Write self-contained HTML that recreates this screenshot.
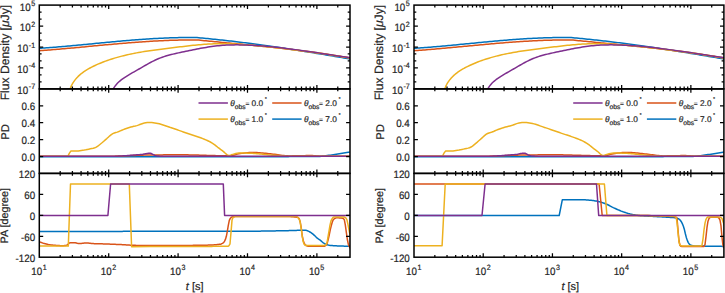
<!DOCTYPE html><html><head><meta charset="utf-8"><style>html,body{margin:0;padding:0;background:#fff;width:725px;height:293px;overflow:hidden}svg{display:block}text{font-family:"Liberation Sans",sans-serif;fill:#262626;stroke:#262626;stroke-width:0.2px;text-rendering:geometricPrecision}</style></head><body>
<svg width="725" height="293" viewBox="0 0 725 293">
<defs>
<clipPath id="c00"><rect x="39.3" y="5.1" width="310.7" height="83.8"/></clipPath>
<clipPath id="c01"><rect x="39.3" y="88.9" width="310.7" height="84.5"/></clipPath>
<clipPath id="c02"><rect x="39.3" y="173.4" width="310.7" height="83.8"/></clipPath>
<clipPath id="c10"><rect x="414" y="5.1" width="309.9" height="83.8"/></clipPath>
<clipPath id="c11"><rect x="414" y="88.9" width="309.9" height="84.5"/></clipPath>
<clipPath id="c12"><rect x="414" y="173.4" width="309.9" height="83.8"/></clipPath>
</defs>
<path d="M39.33 48.35 L41.12 48.23 L42.91 48.11 L44.7 47.99 L46.49 47.86 L48.28 47.73 L50.07 47.59 L51.86 47.45 L53.65 47.31 L55.44 47.17 L57.23 47.02 L59.02 46.87 L60.81 46.72 L62.6 46.57 L64.38 46.41 L66.17 46.26 L67.96 46.1 L69.75 45.93 L71.54 45.77 L73.33 45.6 L75.12 45.44 L76.91 45.27 L78.7 45.1 L80.48 44.93 L82.27 44.76 L84.06 44.59 L85.85 44.41 L87.64 44.24 L89.43 44.07 L91.21 43.89 L93 43.72 L94.79 43.54 L96.58 43.37 L98.37 43.2 L100.16 43.02 L101.95 42.85 L103.74 42.68 L105.52 42.51 L107.31 42.33 L109.1 42.16 L110.89 41.99 L112.68 41.83 L114.47 41.66 L116.26 41.49 L118.05 41.33 L119.84 41.17 L121.63 41.01 L123.42 40.85 L125.21 40.7 L127 40.54 L128.79 40.39 L130.58 40.24 L132.37 40.09 L134.16 39.95 L135.95 39.81 L137.74 39.67 L139.53 39.54 L141.33 39.41 L143.12 39.28 L144.91 39.15 L146.7 39.03 L148.5 38.92 L150.29 38.8 L152.08 38.69 L153.87 38.59 L155.67 38.49 L157.46 38.39 L159.26 38.3 L161.05 38.21 L162.85 38.13 L164.64 38.05 L166.44 37.98 L168.23 37.91 L170.03 37.84 L171.82 37.79 L173.62 37.74 L175.42 37.69 L177.22 37.65 L179.01 37.61 L180.81 37.59 L182.61 37.56 L184.41 37.55 L186.21 37.54 L188.01 37.54 L189.81 37.54 L191.61 37.55 L193.41 37.57 L195.21 37.59 L197.01 37.62 L196.99 37.6 L198.79 37.76 L200.59 37.92 L202.39 38.08 L204.19 38.25 L205.99 38.43 L207.79 38.6 L209.59 38.78 L211.39 38.96 L213.19 39.14 L214.99 39.33 L216.79 39.51 L218.59 39.7 L220.39 39.9 L222.19 40.09 L223.99 40.29 L225.78 40.49 L227.58 40.7 L229.38 40.9 L231.17 41.11 L232.97 41.32 L234.77 41.53 L236.56 41.75 L238.36 41.97 L240.15 42.19 L241.95 42.41 L243.74 42.63 L245.53 42.86 L247.33 43.09 L249.12 43.32 L250.92 43.55 L252.71 43.79 L254.5 44.03 L256.29 44.27 L258.09 44.51 L259.88 44.75 L261.67 45 L263.46 45.25 L265.25 45.49 L267.04 45.75 L268.83 46 L270.62 46.25 L272.41 46.51 L274.2 46.77 L275.99 47.03 L277.78 47.29 L279.57 47.56 L281.36 47.82 L283.15 48.09 L284.94 48.36 L286.73 48.63 L288.52 48.9 L290.3 49.17 L292.09 49.45 L293.88 49.72 L295.67 50 L297.45 50.28 L299.24 50.56 L301.03 50.84 L302.81 51.12 L304.6 51.41 L306.39 51.69 L308.17 51.98 L309.96 52.27 L311.74 52.56 L313.53 52.85 L315.32 53.14 L317.1 53.43 L318.89 53.73 L320.67 54.02 L322.46 54.32 L324.24 54.61 L326.02 54.91 L327.81 55.21 L329.59 55.51 L331.38 55.81 L333.16 56.11 L334.94 56.41 L336.73 56.71 L338.51 57.02 L340.29 57.32 L342.08 57.63 L343.86 57.93 L345.64 58.24 L347.43 58.55 L349.21 58.85 L350.99 59.16" fill="none" stroke="#0072BD" stroke-width="1.5" stroke-linejoin="round" stroke-linecap="butt" clip-path="url(#c00)"/>
<path d="M39.32 50.73 L41.11 50.6 L42.9 50.47 L44.69 50.33 L46.48 50.19 L48.27 50.05 L50.06 49.91 L51.85 49.76 L53.64 49.61 L55.43 49.46 L57.22 49.31 L59.01 49.16 L60.8 49 L62.59 48.85 L64.38 48.69 L66.17 48.53 L67.96 48.37 L69.75 48.2 L71.53 48.04 L73.32 47.88 L75.11 47.71 L76.9 47.55 L78.69 47.38 L80.48 47.21 L82.27 47.04 L84.06 46.88 L85.85 46.71 L87.64 46.54 L89.43 46.37 L91.21 46.2 L93 46.03 L94.79 45.87 L96.58 45.7 L98.37 45.53 L100.16 45.36 L101.95 45.2 L103.74 45.03 L105.53 44.87 L107.32 44.7 L109.11 44.54 L110.9 44.38 L112.69 44.22 L114.48 44.06 L116.27 43.9 L118.06 43.74 L119.85 43.59 L121.64 43.44 L123.43 43.29 L125.22 43.14 L127.01 42.99 L128.8 42.85 L130.59 42.7 L132.38 42.56 L134.17 42.43 L135.96 42.29 L137.76 42.16 L139.55 42.03 L141.34 41.9 L143.13 41.78 L144.92 41.66 L146.72 41.54 L148.51 41.43 L150.3 41.32 L152.09 41.21 L153.89 41.11 L155.68 41.01 L157.48 40.91 L159.27 40.82 L161.06 40.73 L162.86 40.65 L164.65 40.57 L166.45 40.49 L168.24 40.42 L170.04 40.35 L171.83 40.29 L173.63 40.23 L175.43 40.18 L177.22 40.13 L179.02 40.09 L180.82 40.05 L182.62 40.02 L184.41 39.99 L186.21 39.97 L188.01 39.96 L189.81 39.95 L191.61 39.94 L193.41 39.94 L195.21 39.95 L197.01 39.96 L197 39.9 L198.79 40.08 L200.59 40.26 L202.38 40.45 L204.18 40.63 L205.97 40.81 L207.77 40.98 L209.56 41.16 L211.36 41.34 L213.15 41.51 L214.95 41.69 L216.74 41.86 L218.54 42.04 L220.33 42.21 L222.13 42.39 L223.92 42.56 L225.72 42.73 L227.51 42.91 L229.31 43.08 L231.11 43.25 L232.9 43.43 L234.7 43.6 L236.49 43.77 L238.29 43.94 L240.08 44.12 L241.88 44.29 L243.67 44.47 L245.47 44.64 L247.26 44.82 L249.06 44.99 L250.85 45.17 L252.65 45.35 L254.44 45.53 L256.24 45.71 L258.03 45.89 L259.83 46.07 L261.62 46.25 L263.42 46.43 L265.21 46.62 L267.01 46.81 L268.8 46.99 L270.59 47.18 L272.39 47.37 L274.18 47.56 L275.97 47.76 L277.77 47.95 L279.56 48.15 L281.35 48.35 L283.14 48.55 L284.94 48.75 L286.73 48.96 L288.52 49.16 L290.31 49.37 L292.1 49.58 L293.89 49.8 L295.68 50.01 L297.47 50.23 L299.26 50.45 L301.05 50.68 L302.84 50.9 L304.63 51.13 L306.42 51.36 L308.2 51.6 L309.99 51.83 L311.78 52.07 L313.57 52.32 L315.35 52.56 L317.14 52.81 L318.93 53.06 L320.71 53.32 L322.5 53.58 L324.28 53.84 L326.06 54.1 L327.85 54.37 L329.63 54.65 L331.41 54.92 L333.2 55.2 L334.98 55.49 L336.76 55.78 L338.54 56.07 L340.32 56.36 L342.1 56.66 L343.88 56.97 L345.66 57.27 L347.44 57.59 L349.21 57.9 L350.99 58.23" fill="none" stroke="#D95319" stroke-width="1.5" stroke-linejoin="round" stroke-linecap="butt" clip-path="url(#c00)"/>
<path d="M69.98 89.29 L70.67 87.43 L71.46 85.67 L72.33 83.98 L73.3 82.37 L74.35 80.84 L75.47 79.38 L76.67 77.98 L77.94 76.66 L79.27 75.39 L80.66 74.18 L82.11 73.03 L83.6 71.93 L85.15 70.89 L86.73 69.89 L88.34 68.93 L89.99 68.01 L91.66 67.13 L93.36 66.29 L95.07 65.47 L96.8 64.68 L98.53 63.92 L100.27 63.19 L102.02 62.48 L103.78 61.79 L105.55 61.13 L107.33 60.49 L109.11 59.87 L110.9 59.28 L112.7 58.7 L114.51 58.15 L116.32 57.62 L118.14 57.1 L119.97 56.61 L121.8 56.13 L123.64 55.67 L125.48 55.23 L127.33 54.8 L129.18 54.39 L131.04 53.99 L132.9 53.61 L134.76 53.24 L136.63 52.88 L138.5 52.54 L140.38 52.21 L142.26 51.88 L144.14 51.57 L146.02 51.27 L147.91 50.98 L149.79 50.7 L151.68 50.43 L153.57 50.16 L155.46 49.9 L157.35 49.65 L159.25 49.4 L161.14 49.16 L163.03 48.92 L164.92 48.68 L166.81 48.45 L168.7 48.22 L170.59 47.99 L172.48 47.77 L174.36 47.54 L176.24 47.31 L178.13 47.09 L180 46.86 L181.88 46.64 L183.76 46.41 L185.63 46.2 L187.5 45.98 L189.37 45.77 L191.24 45.56 L193.11 45.37 L194.98 45.17 L196.85 44.99 L198.72 44.81 L200.59 44.65 L202.46 44.49 L204.33 44.35 L206.2 44.22 L208.08 44.1 L209.95 43.99 L211.83 43.9 L213.7 43.82 L215.58 43.76 L217.46 43.72 L219.34 43.69 L221.23 43.69 L223.11 43.69 L225 43.72 L226.89 43.76 L228.78 43.81 L230.67 43.88 L232.57 43.96 L234.46 44.05 L236.36 44.15 L238.25 44.26 L240.15 44.38 L242.04 44.51 L243.94 44.65 L245.84 44.8 L247.73 44.95 L249.62 45.11 L251.52 45.27 L253.41 45.43 L255.3 45.6 L257.19 45.78 L259.08 45.95 L260.97 46.13 L262.86 46.32 L264.75 46.5 L266.63 46.69 L268.52 46.88 L270.4 47.08 L272.29 47.28 L274.17 47.48 L276.05 47.69 L277.93 47.9 L279.81 48.11 L281.69 48.33 L283.57 48.54 L285.45 48.77 L287.33 48.99 L289.21 49.22 L291.08 49.45 L292.96 49.68 L294.83 49.92 L296.71 50.15 L298.58 50.4 L300.46 50.64 L302.33 50.89 L304.21 51.14 L306.08 51.39 L307.95 51.64 L309.83 51.9 L311.7 52.16 L313.57 52.42 L315.44 52.69 L317.31 52.96 L319.19 53.23 L321.06 53.5 L322.93 53.77 L324.8 54.05 L326.67 54.33 L328.54 54.61 L330.41 54.9 L332.29 55.18 L334.16 55.47 L336.03 55.76 L337.9 56.06 L339.77 56.35 L341.64 56.65 L343.51 56.95 L345.39 57.25 L347.26 57.55 L349.13 57.86 L351 58.16" fill="none" stroke="#EDB120" stroke-width="1.5" stroke-linejoin="round" stroke-linecap="butt" clip-path="url(#c00)"/>
<path d="M113.09 89.36 L114.01 87.68 L115.04 86.13 L116.17 84.68 L117.39 83.32 L118.7 82.05 L120.08 80.85 L121.51 79.71 L123 78.62 L124.52 77.58 L126.08 76.56 L127.66 75.57 L129.26 74.61 L130.88 73.66 L132.51 72.72 L134.14 71.79 L135.79 70.87 L137.43 69.94 L139.06 69.01 L140.69 68.07 L142.32 67.13 L143.94 66.19 L145.56 65.25 L147.18 64.32 L148.81 63.41 L150.44 62.52 L152.08 61.65 L153.74 60.81 L155.4 60.01 L157.09 59.24 L158.79 58.52 L160.51 57.84 L162.25 57.21 L164 56.61 L165.78 56.05 L167.56 55.53 L169.36 55.03 L171.17 54.56 L172.99 54.11 L174.82 53.68 L176.65 53.27 L178.49 52.87 L180.33 52.47 L182.17 52.08 L184.01 51.69 L185.85 51.3 L187.69 50.92 L189.53 50.53 L191.37 50.15 L193.21 49.78 L195.05 49.41 L196.89 49.05 L198.74 48.7 L200.58 48.36 L202.42 48.02 L204.26 47.7 L206.11 47.4 L207.95 47.1 L209.8 46.82 L211.65 46.56 L213.5 46.31 L215.35 46.08 L217.21 45.86 L219.06 45.67 L220.92 45.5 L222.78 45.35 L224.64 45.22 L226.5 45.12 L228.37 45.03 L230.23 44.96 L232.1 44.91 L233.97 44.88 L235.84 44.86 L237.71 44.86 L239.58 44.88 L241.45 44.91 L243.33 44.95 L245.2 45.01 L247.07 45.07 L248.94 45.15 L250.81 45.24 L252.68 45.34 L254.55 45.45 L256.42 45.57 L258.29 45.69 L260.15 45.83 L262.02 45.97 L263.88 46.12 L265.75 46.27 L267.61 46.44 L269.48 46.61 L271.34 46.79 L273.2 46.97 L275.06 47.16 L276.92 47.36 L278.78 47.56 L280.64 47.77 L282.5 47.99 L284.35 48.21 L286.21 48.43 L288.07 48.66 L289.92 48.9 L291.78 49.14 L293.63 49.38 L295.49 49.63 L297.34 49.88 L299.2 50.13 L301.05 50.39 L302.9 50.65 L304.75 50.92 L306.61 51.19 L308.46 51.46 L310.31 51.73 L312.16 52 L314.01 52.28 L315.86 52.56 L317.71 52.84 L319.56 53.12 L321.41 53.4 L323.26 53.68 L325.11 53.96 L326.96 54.25 L328.81 54.53 L330.66 54.82 L332.51 55.1 L334.36 55.38 L336.21 55.66 L338.06 55.94 L339.91 56.22 L341.76 56.5 L343.61 56.78 L345.45 57.05 L347.3 57.33 L349.15 57.6 L351 57.87" fill="none" stroke="#7E2F8E" stroke-width="1.5" stroke-linejoin="round" stroke-linecap="butt" clip-path="url(#c00)"/>
<path d="M39.3 156.7 L40.8 156.7 L42.3 156.7 L43.8 156.7 L45.3 156.7 L46.8 156.7 L48.3 156.7 L49.8 156.7 L51.3 156.7 L52.8 156.7 L54.3 156.7 L55.8 156.7 L57.3 156.7 L58.8 156.7 L60.3 156.7 L61.8 156.7 L63.3 156.7 L64.8 156.7 L66.3 156.7 L67.8 156.7 L69.3 156.7 L70.8 156.7 L72.3 156.7 L73.8 156.7 L75.3 156.7 L76.8 156.7 L78.3 156.7 L79.8 156.7 L81.3 156.7 L82.8 156.7 L84.3 156.7 L85.8 156.7 L87.3 156.7 L88.8 156.7 L90.3 156.7 L91.8 156.7 L93.3 156.7 L94.8 156.7 L96.3 156.7 L97.8 156.7 L99.3 156.7 L100.8 156.7 L102.3 156.7 L103.8 156.7 L105.3 156.7 L106.8 156.7 L108.3 156.7 L109.8 156.7 L111.3 156.7 L112.8 156.7 L114.3 156.7 L115.8 156.7 L117.3 156.7 L118.8 156.7 L120.3 156.7 L121.8 156.7 L123.3 156.7 L124.8 156.7 L126.3 156.7 L127.8 156.7 L129.3 156.7 L130.8 156.7 L132.3 156.7 L133.8 156.7 L135.3 156.69 L136.8 156.69 L138.3 156.69 L139.8 156.69 L141.3 156.69 L142.8 156.69 L144.3 156.69 L145.8 156.69 L147.3 156.69 L148.8 156.69 L150.3 156.69 L151.8 156.69 L153.3 156.69 L154.8 156.69 L156.3 156.69 L157.8 156.69 L159.3 156.69 L160.8 156.69 L162.3 156.69 L163.8 156.69 L165.3 156.69 L166.8 156.69 L168.3 156.69 L169.8 156.69 L171.3 156.69 L172.8 156.69 L174.3 156.69 L175.8 156.69 L177.3 156.69 L178.8 156.69 L180.3 156.69 L181.8 156.68 L183.3 156.68 L184.8 156.68 L186.3 156.68 L187.8 156.68 L189.3 156.68 L190.8 156.68 L192.3 156.68 L193.8 156.68 L195.3 156.68 L196.8 156.68 L198.3 156.68 L199.8 156.68 L201.3 156.68 L202.8 156.68 L204.3 156.68 L205.8 156.68 L207.3 156.68 L208.8 156.68 L210.3 156.67 L211.8 156.67 L213.3 156.67 L214.8 156.67 L216.3 156.67 L217.8 156.67 L219.3 156.67 L220.8 156.67 L222.3 156.67 L223.8 156.67 L225.3 156.67 L226.8 156.67 L228.3 156.67 L229.8 156.67 L231.3 156.66 L232.8 156.66 L234.3 156.66 L235.8 156.66 L237.3 156.66 L238.8 156.66 L240.3 156.66 L241.8 156.66 L243.3 156.66 L244.8 156.66 L246.3 156.66 L247.8 156.66 L249.3 156.65 L250.8 156.65 L252.3 156.65 L253.8 156.65 L255.3 156.65 L256.8 156.65 L258.3 156.65 L259.8 156.65 L261.3 156.65 L262.8 156.65 L264.3 156.64 L265.8 156.64 L267.3 156.64 L268.8 156.64 L270.3 156.64 L271.8 156.64 L273.3 156.64 L274.8 156.64 L276.3 156.64 L277.8 156.63 L279.3 156.63 L280.8 156.63 L282.3 156.63 L283.8 156.63 L285.3 156.63 L286.8 156.63 L288.3 156.63 L289.8 156.62 L291.3 156.62 L292.8 156.62 L294.3 156.62 L295.8 156.62 L297.3 156.62 L298.8 156.62 L300.3 156.62 L301.8 156.61 L303.3 156.61 L304.8 156.61 L306.3 156.61 L307.8 156.61 L309.3 156.61 L310.8 156.61 L312.3 156.6 L313.8 156.6 L315.3 156.6 L316.8 156.59 L318.3 156.52 L319.8 156.41 L321.3 156.25 L322.8 156.08 L324.3 155.9 L325.8 155.72 L327.3 155.55 L328.8 155.36 L330.3 155.15 L331.8 154.93 L333.3 154.71 L334.8 154.48 L336.3 154.25 L337.8 154.03 L339.3 153.79 L340.8 153.56 L342.3 153.31 L343.8 153.07 L345.3 152.82 L346.8 152.56 L348.3 152.3 L349.8 152.04 L350 152" fill="none" stroke="#0072BD" stroke-width="1.5" stroke-linejoin="round" stroke-linecap="butt" clip-path="url(#c01)"/>
<path d="M39.3 156.2 L40.8 156.2 L42.3 156.2 L43.8 156.2 L45.3 156.2 L46.8 156.2 L48.3 156.2 L49.8 156.2 L51.3 156.2 L52.8 156.2 L54.3 156.2 L55.8 156.2 L57.3 156.2 L58.8 156.2 L60.3 156.2 L61.8 156.2 L63.3 156.2 L64.8 156.2 L66.3 156.2 L67.8 156.2 L69.3 156.2 L70.8 156.2 L72.3 156.2 L73.8 156.2 L75.3 156.2 L76.8 156.2 L78.3 156.2 L79.8 156.2 L81.3 156.2 L82.8 156.2 L84.3 156.2 L85.8 156.2 L87.3 156.2 L88.8 156.2 L90.3 156.2 L91.8 156.2 L93.3 156.2 L94.8 156.2 L96.3 156.2 L97.8 156.2 L99.3 156.2 L100.8 156.2 L102.3 156.2 L103.8 156.2 L105.3 156.2 L106.8 156.2 L108.3 156.2 L109.8 156.19 L111.3 156.18 L112.8 156.16 L114.3 156.14 L115.8 156.1 L117.3 156.07 L118.8 156.02 L120.3 155.98 L121.8 155.93 L123.3 155.88 L124.8 155.82 L126.3 155.76 L127.8 155.7 L129.3 155.64 L130.8 155.58 L132.3 155.52 L133.8 155.46 L135.3 155.4 L136.8 155.35 L138.3 155.29 L139.8 155.24 L141.3 155.19 L142.8 155.15 L144.3 155.1 L145.8 155.07 L147.3 155.04 L148.8 155.01 L150.3 155 L151.8 154.98 L153.3 154.97 L154.8 154.95 L156.3 154.94 L157.8 154.92 L159.3 154.91 L160.8 154.89 L162.3 154.88 L163.8 154.87 L165.3 154.86 L166.8 154.85 L168.3 154.84 L169.8 154.83 L171.3 154.82 L172.8 154.82 L174.3 154.81 L175.8 154.81 L177.3 154.8 L178.8 154.8 L180.3 154.8 L181.8 154.8 L183.3 154.81 L184.8 154.83 L186.3 154.85 L187.8 154.87 L189.3 154.9 L190.8 154.93 L192.3 154.96 L193.8 154.99 L195.3 155.03 L196.8 155.07 L198.3 155.12 L199.8 155.16 L201.3 155.21 L202.8 155.25 L204.3 155.3 L205.8 155.34 L207.3 155.39 L208.8 155.43 L210.3 155.48 L211.8 155.52 L213.3 155.56 L214.8 155.6 L216.3 155.64 L217.8 155.67 L219.3 155.7 L220.8 155.73 L222.3 155.75 L223.8 155.77 L225.3 155.79 L226.8 155.8 L228.3 155.8 L229.8 155.76 L231.3 155.58 L232.8 155.28 L234.3 154.91 L235.8 154.51 L237.3 154.12 L238.8 153.79 L240.3 153.56 L241.8 153.37 L243.3 153.17 L244.8 152.98 L246.3 152.81 L247.8 152.65 L249.3 152.53 L250.8 152.45 L252.3 152.4 L253.8 152.41 L255.3 152.45 L256.8 152.53 L258.3 152.63 L259.8 152.75 L261.3 152.89 L262.8 153.05 L264.3 153.21 L265.8 153.37 L267.3 153.53 L268.8 153.69 L270.3 153.83 L271.8 153.98 L273.3 154.16 L274.8 154.36 L276.3 154.56 L277.8 154.77 L279.3 154.98 L280.8 155.18 L282.3 155.37 L283.8 155.54 L285.3 155.68 L286.8 155.8 L288.3 155.87 L289.8 155.9 L291.3 155.89 L292.8 155.87 L294.3 155.83 L295.8 155.79 L297.3 155.75 L298.8 155.72 L300.3 155.7 L301.8 155.68 L303.3 155.66 L304.8 155.64 L306.3 155.62 L307.8 155.61 L309.3 155.6 L310.8 155.6 L312.3 155.62 L313.8 155.7 L315.3 155.8 L316.8 155.92 L318.3 156.04 L319.8 156.14 L321.3 156.19 L322.8 156.2 L324.3 156.2 L325.8 156.2 L327.3 156.2 L328.8 156.2 L330.3 156.2 L331.8 156.2 L333.3 156.2 L334.8 156.2 L336.3 156.2 L337.8 156.2 L339.3 156.2 L340.8 156.2 L342.3 156.2 L343.8 156.2 L345.3 156.2 L346.8 156.2 L348.3 156.2 L349.8 156.2 L350 156.2" fill="none" stroke="#D95319" stroke-width="1.5" stroke-linejoin="round" stroke-linecap="butt" clip-path="url(#c01)"/>
<path d="M39.3 156.3 L40.8 156.3 L42.3 156.3 L43.8 156.3 L45.3 156.3 L46.8 156.3 L48.3 156.3 L49.8 156.3 L51.3 156.3 L52.8 156.3 L54.3 156.3 L55.8 156.3 L57.3 156.3 L58.8 156.3 L60.3 156.3 L61.8 156.3 L63.3 156.3 L64.8 156.3 L66.3 156.3 L67.8 156.3 L69.3 153.38 L70.8 151.1 L72.3 151.1 L73.8 151.1 L75.3 151.1 L76.8 151.06 L78.3 150.93 L79.8 150.75 L81.3 150.54 L82.8 150.33 L84.3 150.1 L85.8 149.82 L87.3 149.5 L88.8 149.17 L90.3 148.83 L91.8 148.51 L93.3 148.17 L94.8 147.74 L96.3 147.14 L97.8 146.17 L99.3 145 L100.8 143.78 L102.3 142.54 L103.8 141.21 L105.3 139.85 L106.8 138.56 L108.3 137.19 L109.8 135.81 L111.3 134.56 L112.8 133.59 L114.3 132.99 L115.8 132.56 L117.3 132.1 L118.8 131.52 L120.3 130.89 L121.8 130.24 L123.3 129.61 L124.8 129.04 L126.3 128.5 L127.8 127.99 L129.3 127.51 L130.8 127.08 L132.3 126.7 L133.8 126.35 L135.3 126 L136.8 125.6 L138.3 125.11 L139.8 124.55 L141.3 123.97 L142.8 123.45 L144.3 123.06 L145.8 122.78 L147.3 122.54 L148.8 122.41 L150.3 122.43 L151.8 122.54 L153.3 122.71 L154.8 122.92 L156.3 123.14 L157.8 123.44 L159.3 123.8 L160.8 124.23 L162.3 124.7 L163.8 125.2 L165.3 125.73 L166.8 126.26 L168.3 126.79 L169.8 127.31 L171.3 127.79 L172.8 128.29 L174.3 128.79 L175.8 129.3 L177.3 129.82 L178.8 130.35 L180.3 130.88 L181.8 131.4 L183.3 131.93 L184.8 132.45 L186.3 132.97 L187.8 133.47 L189.3 133.97 L190.8 134.46 L192.3 134.95 L193.8 135.44 L195.3 135.94 L196.8 136.45 L198.3 136.97 L199.8 137.51 L201.3 138.06 L202.8 138.63 L204.3 139.22 L205.8 139.83 L207.3 140.49 L208.8 141.2 L210.3 141.99 L211.8 142.87 L213.3 143.83 L214.8 144.88 L216.3 146.07 L217.8 147.29 L219.3 148.44 L220.8 149.56 L222.3 150.68 L223.8 151.86 L225.3 153.29 L226.8 154.64 L228.3 155.49 L229.8 155.47 L231.3 154.84 L232.8 154.39 L234.3 153.98 L235.8 153.59 L237.3 153.27 L238.8 153.06 L240.3 153 L241.8 153.01 L243.3 153.03 L244.8 153.06 L246.3 153.1 L247.8 153.15 L249.3 153.2 L250.8 153.25 L252.3 153.31 L253.8 153.39 L255.3 153.5 L256.8 153.63 L258.3 153.78 L259.8 153.94 L261.3 154.11 L262.8 154.28 L264.3 154.45 L265.8 154.62 L267.3 154.77 L268.8 154.91 L270.3 155.02 L271.8 155.13 L273.3 155.25 L274.8 155.36 L276.3 155.48 L277.8 155.59 L279.3 155.7 L280.8 155.81 L282.3 155.91 L283.8 156 L285.3 156.08 L286.8 156.15 L288.3 156.21 L289.8 156.26 L291.3 156.29 L292.8 156.3 L294.3 156.3 L295.8 156.3 L297.3 156.3 L298.8 156.3 L300.3 156.3 L301.8 156.3 L303.3 156.3 L304.8 156.3 L306.3 156.3 L307.8 156.3 L309.3 156.3 L310.8 156.3 L312.3 156.3 L313.8 156.3 L315.3 156.3 L316.8 156.3 L318.3 156.3 L319.8 156.3 L321.3 156.3 L322.8 156.3 L324.3 156.3 L325.8 156.3 L327.3 156.3 L328.8 156.3 L330.3 156.3 L331.8 156.3 L333.3 156.3 L334.8 156.3 L336.3 156.3 L337.8 156.3 L339.3 156.3 L340.8 156.3 L342.3 156.3 L343.8 156.3 L345.3 156.3 L346.8 156.3 L348.3 156.3 L349.8 156.3 L350 156.3" fill="none" stroke="#EDB120" stroke-width="1.5" stroke-linejoin="round" stroke-linecap="butt" clip-path="url(#c01)"/>
<path d="M39.3 156.3 L40.8 156.3 L42.3 156.3 L43.8 156.3 L45.3 156.3 L46.8 156.3 L48.3 156.3 L49.8 156.3 L51.3 156.3 L52.8 156.3 L54.3 156.3 L55.8 156.3 L57.3 156.3 L58.8 156.3 L60.3 156.3 L61.8 156.3 L63.3 156.3 L64.8 156.3 L66.3 156.3 L67.8 156.3 L69.3 156.3 L70.8 156.3 L72.3 156.3 L73.8 156.3 L75.3 156.3 L76.8 156.3 L78.3 156.3 L79.8 156.3 L81.3 156.3 L82.8 156.3 L84.3 156.3 L85.8 156.3 L87.3 156.3 L88.8 156.3 L90.3 156.3 L91.8 156.3 L93.3 156.3 L94.8 156.3 L96.3 156.3 L97.8 156.3 L99.3 156.3 L100.8 156.3 L102.3 156.3 L103.8 156.3 L105.3 156.3 L106.8 156.3 L108.3 156.3 L109.8 156.3 L111.3 156.29 L112.8 156.27 L114.3 156.24 L115.8 156.2 L117.3 156.15 L118.8 156.09 L120.3 156.02 L121.8 155.95 L123.3 155.86 L124.8 155.77 L126.3 155.68 L127.8 155.58 L129.3 155.47 L130.8 155.36 L132.3 155.24 L133.8 155.12 L135.3 155 L136.8 154.87 L138.3 154.75 L139.8 154.62 L141.3 154.45 L142.8 154.21 L144.3 153.93 L145.8 153.65 L147.3 153.41 L148.8 153.24 L150.3 153.22 L151.8 153.77 L153.3 154.69 L154.8 155.45 L156.3 155.72 L157.8 155.89 L159.3 156.04 L160.8 156.15 L162.3 156.24 L163.8 156.29 L165.3 156.3 L166.8 156.3 L168.3 156.3 L169.8 156.3 L171.3 156.3 L172.8 156.3 L174.3 156.3 L175.8 156.3 L177.3 156.3 L178.8 156.3 L180.3 156.3 L181.8 156.3 L183.3 156.3 L184.8 156.3 L186.3 156.3 L187.8 156.3 L189.3 156.3 L190.8 156.3 L192.3 156.3 L193.8 156.3 L195.3 156.3 L196.8 156.3 L198.3 156.3 L199.8 156.3 L201.3 156.3 L202.8 156.3 L204.3 156.3 L205.8 156.3 L207.3 156.3 L208.8 156.3 L210.3 156.3 L211.8 156.3 L213.3 156.3 L214.8 156.3 L216.3 156.3 L217.8 156.3 L219.3 156.3 L220.8 156.3 L222.3 156.3 L223.8 156.3 L225.3 156.3 L226.8 156.3 L228.3 156.3 L229.8 156.3 L231.3 156.3 L232.8 156.3 L234.3 156.3 L235.8 156.3 L237.3 156.3 L238.8 156.3 L240.3 156.3 L241.8 156.3 L243.3 156.3 L244.8 156.3 L246.3 156.3 L247.8 156.3 L249.3 156.3 L250.8 156.3 L252.3 156.3 L253.8 156.3 L255.3 156.3 L256.8 156.3 L258.3 156.3 L259.8 156.3 L261.3 156.3 L262.8 156.3 L264.3 156.3 L265.8 156.3 L267.3 156.3 L268.8 156.3 L270.3 156.3 L271.8 156.3 L273.3 156.3 L274.8 156.3 L276.3 156.3 L277.8 156.3 L279.3 156.3 L280.8 156.3 L282.3 156.3 L283.8 156.3 L285.3 156.3 L286.8 156.3 L288.3 156.3 L289.8 156.3 L291.3 156.3 L292.8 156.3 L294.3 156.3 L295.8 156.3 L297.3 156.3 L298.8 156.3 L300.3 156.3 L301.8 156.3 L303.3 156.3 L304.8 156.3 L306.3 156.3 L307.8 156.3 L309.3 156.3 L310.8 156.3 L312.3 156.3 L313.8 156.3 L315.3 156.3 L316.8 156.3 L318.3 156.3 L319.8 156.3 L321.3 156.3 L322.8 156.3 L324.3 156.3 L325.8 156.3 L327.3 156.3 L328.8 156.3 L330.3 156.3 L331.8 156.3 L333.3 156.3 L334.8 156.3 L336.3 156.3 L337.8 156.3 L339.3 156.3 L340.8 156.3 L342.3 156.3 L343.8 156.3 L345.3 156.3 L346.8 156.3 L348.3 156.3 L349.8 156.3 L350 156.3" fill="none" stroke="#7E2F8E" stroke-width="1.5" stroke-linejoin="round" stroke-linecap="butt" clip-path="url(#c01)"/>
<path d="M39.3 231.4 L40.3 231.4 L41.3 231.4 L42.3 231.4 L43.3 231.4 L44.3 231.4 L45.3 231.4 L46.3 231.4 L47.3 231.4 L48.3 231.4 L49.3 231.4 L50.3 231.4 L51.3 231.4 L52.3 231.4 L53.3 231.4 L54.3 231.4 L55.3 231.4 L56.3 231.4 L57.3 231.4 L58.3 231.4 L59.3 231.4 L60.3 231.4 L61.3 231.4 L62.3 231.4 L63.3 231.4 L64.3 231.4 L65.3 231.4 L66.3 231.4 L67.3 231.4 L68.3 231.4 L69.3 231.4 L70.3 231.4 L71.3 231.4 L72.3 231.4 L73.3 231.4 L74.3 231.4 L75.3 231.4 L76.3 231.4 L77.3 231.4 L78.3 231.4 L79.3 231.39 L80.3 231.39 L81.3 231.39 L82.3 231.39 L83.3 231.39 L84.3 231.39 L85.3 231.39 L86.3 231.39 L87.3 231.39 L88.3 231.39 L89.3 231.39 L90.3 231.39 L91.3 231.39 L92.3 231.39 L93.3 231.39 L94.3 231.39 L95.3 231.39 L96.3 231.39 L97.3 231.39 L98.3 231.39 L99.3 231.39 L100.3 231.39 L101.3 231.39 L102.3 231.39 L103.3 231.39 L104.3 231.39 L105.3 231.39 L106.3 231.38 L107.3 231.38 L108.3 231.38 L109.3 231.38 L110.3 231.38 L111.3 231.38 L112.3 231.38 L113.3 231.38 L114.3 231.38 L115.3 231.38 L116.3 231.38 L117.3 231.38 L118.3 231.38 L119.3 231.38 L120.3 231.38 L121.3 231.38 L122.3 231.38 L123.3 231.37 L124.3 231.37 L125.3 231.37 L126.3 231.37 L127.3 231.37 L128.3 231.37 L129.3 231.37 L130.3 231.37 L131.3 231.37 L132.3 231.37 L133.3 231.37 L134.3 231.37 L135.3 231.37 L136.3 231.37 L137.3 231.36 L138.3 231.36 L139.3 231.36 L140.3 231.36 L141.3 231.36 L142.3 231.36 L143.3 231.36 L144.3 231.36 L145.3 231.36 L146.3 231.36 L147.3 231.36 L148.3 231.36 L149.3 231.35 L150.3 231.35 L151.3 231.35 L152.3 231.35 L153.3 231.35 L154.3 231.35 L155.3 231.35 L156.3 231.35 L157.3 231.35 L158.3 231.35 L159.3 231.34 L160.3 231.34 L161.3 231.34 L162.3 231.34 L163.3 231.34 L164.3 231.34 L165.3 231.34 L166.3 231.34 L167.3 231.34 L168.3 231.34 L169.3 231.33 L170.3 231.33 L171.3 231.33 L172.3 231.33 L173.3 231.33 L174.3 231.33 L175.3 231.33 L176.3 231.33 L177.3 231.32 L178.3 231.32 L179.3 231.32 L180.3 231.32 L181.3 231.32 L182.3 231.32 L183.3 231.32 L184.3 231.32 L185.3 231.31 L186.3 231.31 L187.3 231.31 L188.3 231.31 L189.3 231.31 L190.3 231.31 L191.3 231.31 L192.3 231.3 L193.3 231.3 L194.3 231.3 L195.3 231.3 L196.3 231.3 L197.3 231.3 L198.3 231.3 L199.3 231.29 L200.3 231.29 L201.3 231.29 L202.3 231.29 L203.3 231.29 L204.3 231.29 L205.3 231.29 L206.3 231.28 L207.3 231.28 L208.3 231.28 L209.3 231.28 L210.3 231.28 L211.3 231.28 L212.3 231.27 L213.3 231.27 L214.3 231.27 L215.3 231.27 L216.3 231.27 L217.3 231.27 L218.3 231.26 L219.3 231.26 L220.3 231.26 L221.3 231.26 L222.3 231.26 L223.3 231.25 L224.3 231.25 L225.3 231.25 L226.3 231.25 L227.3 231.25 L228.3 231.24 L229.3 231.24 L230.3 231.24 L231.3 231.24 L232.3 231.24 L233.3 231.24 L234.3 231.23 L235.3 231.23 L236.3 231.23 L237.3 231.23 L238.3 231.23 L239.3 231.22 L240.3 231.22 L241.3 231.22 L242.3 231.22 L243.3 231.21 L244.3 231.21 L245.3 231.21 L246.3 231.21 L247.3 231.21 L248.3 231.2 L249.3 231.2 L250.3 231.2 L251.3 231.2 L252.3 231.19 L253.3 231.19 L254.3 231.18 L255.3 231.17 L256.3 231.17 L257.3 231.16 L258.3 231.15 L259.3 231.14 L260.3 231.13 L261.3 231.12 L262.3 231.1 L263.3 231.09 L264.3 231.08 L265.3 231.06 L266.3 231.05 L267.3 231.03 L268.3 231.02 L269.3 231 L270.3 230.98 L271.3 230.97 L272.3 230.95 L273.3 230.93 L274.3 230.91 L275.3 230.89 L276.3 230.87 L277.3 230.85 L278.3 230.83 L279.3 230.82 L280.3 230.8 L281.3 230.78 L282.3 230.76 L283.3 230.74 L284.3 230.71 L285.3 230.69 L286.3 230.67 L287.3 230.65 L288.3 230.63 L289.3 230.61 L290.3 230.59 L291.3 230.57 L292.3 230.54 L293.3 230.51 L294.3 230.48 L295.3 230.44 L296.3 230.41 L297.3 230.37 L298.3 230.34 L299.3 230.31 L300.3 230.28 L301.3 230.25 L302.3 230.23 L303.3 230.21 L304.3 230.2 L305.3 230.2 L306.3 230.36 L307.3 230.72 L308.3 231.12 L309.3 231.64 L310.3 232.24 L311.3 232.9 L312.3 233.64 L313.3 234.43 L314.3 235.32 L315.3 236.32 L316.3 237.32 L317.3 238.2 L318.3 238.89 L319.3 239.52 L320.3 240.23 L321.3 241.09 L322.3 242.01 L323.3 242.84 L324.3 243.46 L325.3 243.96 L326.3 244.37 L327.3 244.69 L328.3 244.98 L329.3 245.23 L330.3 245.42 L331.3 245.54 L332.3 245.62 L333.3 245.69 L334.3 245.76 L335.3 245.81 L336.3 245.86 L337.3 245.9 L338.3 245.94 L339.3 245.97 L340.3 246.01 L341.3 246.05 L342.3 246.08 L343.3 246.12 L344.3 246.15 L345.3 246.18 L346.3 246.21 L347.3 246.24 L348.3 246.26 L349.3 246.28 L350.3 246.3 L350.5 246.3" fill="none" stroke="#0072BD" stroke-width="1.5" stroke-linejoin="round" stroke-linecap="butt" clip-path="url(#c02)"/>
<path d="M39.3 241.8 L40.3 242.17 L41.3 242.52 L42.3 242.85 L43.3 243.16 L44.3 243.44 L45.3 243.7 L46.3 243.95 L47.3 244.19 L48.3 244.42 L49.3 244.62 L50.3 244.8 L51.3 244.94 L52.3 245.05 L53.3 245.15 L54.3 245.24 L55.3 245.33 L56.3 245.41 L57.3 245.49 L58.3 245.55 L59.3 245.61 L60.3 245.65 L61.3 245.68 L62.3 245.7 L63.3 245.69 L64.3 245.6 L65.3 245.42 L66.3 245.19 L67.3 244.86 L68.3 243.94 L69.3 243.04 L70.3 242.85 L71.3 242.78 L72.3 242.73 L73.3 242.7 L74.3 242.71 L75.3 242.85 L76.3 243.06 L77.3 243.31 L78.3 243.51 L79.3 243.6 L80.3 243.57 L81.3 243.47 L82.3 243.33 L83.3 243.18 L84.3 243.04 L85.3 242.94 L86.3 242.9 L87.3 242.93 L88.3 243.02 L89.3 243.15 L90.3 243.29 L91.3 243.42 L92.3 243.53 L93.3 243.6 L94.3 243.65 L95.3 243.69 L96.3 243.72 L97.3 243.75 L98.3 243.78 L99.3 243.8 L100.3 243.83 L101.3 243.85 L102.3 243.87 L103.3 243.9 L104.3 243.92 L105.3 243.95 L106.3 243.98 L107.3 244.01 L108.3 244.05 L109.3 244.09 L110.3 244.13 L111.3 244.17 L112.3 244.21 L113.3 244.26 L114.3 244.3 L115.3 244.35 L116.3 244.39 L117.3 244.44 L118.3 244.49 L119.3 244.53 L120.3 244.58 L121.3 244.62 L122.3 244.67 L123.3 244.73 L124.3 244.78 L125.3 244.84 L126.3 244.9 L127.3 244.96 L128.3 245.02 L129.3 245.08 L130.3 245.13 L131.3 245.19 L132.3 245.23 L133.3 245.28 L134.3 245.32 L135.3 245.35 L136.3 245.38 L137.3 245.39 L138.3 245.4 L139.3 245.41 L140.3 245.41 L141.3 245.42 L142.3 245.43 L143.3 245.43 L144.3 245.44 L145.3 245.44 L146.3 245.45 L147.3 245.45 L148.3 245.45 L149.3 245.46 L150.3 245.46 L151.3 245.47 L152.3 245.47 L153.3 245.47 L154.3 245.48 L155.3 245.48 L156.3 245.48 L157.3 245.48 L158.3 245.49 L159.3 245.49 L160.3 245.49 L161.3 245.49 L162.3 245.49 L163.3 245.5 L164.3 245.5 L165.3 245.5 L166.3 245.5 L167.3 245.5 L168.3 245.5 L169.3 245.5 L170.3 245.5 L171.3 245.5 L172.3 245.5 L173.3 245.5 L174.3 245.5 L175.3 245.49 L176.3 245.49 L177.3 245.49 L178.3 245.48 L179.3 245.48 L180.3 245.47 L181.3 245.47 L182.3 245.46 L183.3 245.46 L184.3 245.45 L185.3 245.44 L186.3 245.43 L187.3 245.43 L188.3 245.42 L189.3 245.41 L190.3 245.4 L191.3 245.39 L192.3 245.38 L193.3 245.37 L194.3 245.35 L195.3 245.34 L196.3 245.33 L197.3 245.32 L198.3 245.3 L199.3 245.29 L200.3 245.27 L201.3 245.26 L202.3 245.24 L203.3 245.23 L204.3 245.21 L205.3 245.19 L206.3 245.18 L207.3 245.15 L208.3 245.12 L209.3 245.09 L210.3 245.05 L211.3 245.01 L212.3 244.96 L213.3 244.9 L214.3 244.83 L215.3 244.75 L216.3 244.67 L217.3 244.57 L218.3 244.46 L219.3 244.34 L220.3 244.21 L221.3 243.93 L222.3 243.41 L223.3 242.78 L224.3 241.77 L225.3 239.7 L226.3 236.53 L227.3 231.43 L228.3 225.44 L229.3 220.44 L230.3 218.42 L231.3 217.3 L232.3 216.91 L233.3 216.74 L234.3 216.63 L235.3 216.59 L236.3 216.57 L237.3 216.56 L238.3 216.54 L239.3 216.53 L240.3 216.52 L241.3 216.51 L242.3 216.51 L243.3 216.5 L244.3 216.5 L245.3 216.5 L246.3 216.5 L247.3 216.5 L248.3 216.5 L249.3 216.5 L250.3 216.5 L251.3 216.5 L252.3 216.5 L253.3 216.5 L254.3 216.5 L255.3 216.5 L256.3 216.5 L257.3 216.5 L258.3 216.51 L259.3 216.51 L260.3 216.51 L261.3 216.51 L262.3 216.51 L263.3 216.51 L264.3 216.51 L265.3 216.51 L266.3 216.52 L267.3 216.52 L268.3 216.52 L269.3 216.52 L270.3 216.52 L271.3 216.53 L272.3 216.53 L273.3 216.53 L274.3 216.53 L275.3 216.54 L276.3 216.54 L277.3 216.54 L278.3 216.55 L279.3 216.55 L280.3 216.55 L281.3 216.56 L282.3 216.56 L283.3 216.57 L284.3 216.57 L285.3 216.58 L286.3 216.58 L287.3 216.59 L288.3 216.59 L289.3 216.6 L290.3 216.6 L291.3 216.63 L292.3 216.69 L293.3 216.78 L294.3 216.88 L295.3 217.01 L296.3 217.14 L297.3 217.34 L298.3 217.7 L299.3 219.02 L300.3 222.25 L301.3 228.43 L302.3 236.24 L303.3 240.75 L304.3 243.54 L305.3 245 L306.3 245.57 L307.3 245.97 L308.3 246.18 L309.3 246.2 L310.3 246.2 L311.3 246.2 L312.3 246.2 L313.3 246.2 L314.3 246.2 L315.3 246.2 L316.3 246.2 L317.3 246.2 L318.3 246.2 L319.3 246.2 L320.3 246.2 L321.3 246.2 L322.3 246.2 L323.3 246.2 L324.3 246.18 L325.3 245.78 L326.3 244.99 L327.3 242.88 L328.3 239 L329.3 234.52 L330.3 229.61 L331.3 225.6 L332.3 221.94 L333.3 219.6 L334.3 218.77 L335.3 218.17 L336.3 217.84 L337.3 217.8 L338.3 217.83 L339.3 217.88 L340.3 217.96 L341.3 218.07 L342.3 218.21 L343.3 218.52 L344.3 219.7 L345.3 224.8 L346.3 232.18 L347.3 239.26 L348.3 244.2 L349.3 246.65 L350.3 247.96 L350.5 248" fill="none" stroke="#D95319" stroke-width="1.5" stroke-linejoin="round" stroke-linecap="butt" clip-path="url(#c02)"/>
<path d="M39.3 246.1 L68.3 246.1 L70.5 184 L129.3 184 L131.6 246.8 L150 246.6 L150 246.6 L151 246.6 L152 246.59 L153 246.59 L154 246.58 L155 246.58 L156 246.57 L157 246.57 L158 246.57 L159 246.56 L160 246.56 L161 246.55 L162 246.55 L163 246.55 L164 246.54 L165 246.54 L166 246.53 L167 246.53 L168 246.53 L169 246.52 L170 246.52 L171 246.51 L172 246.51 L173 246.5 L174 246.5 L175 246.5 L176 246.49 L177 246.49 L178 246.49 L179 246.48 L180 246.48 L181 246.47 L182 246.47 L183 246.47 L184 246.46 L185 246.46 L186 246.45 L187 246.45 L188 246.45 L189 246.44 L190 246.44 L191 246.43 L192 246.43 L193 246.43 L194 246.42 L195 246.42 L196 246.42 L197 246.41 L198 246.41 L199 246.4 L200 246.4 L201 246.4 L202 246.39 L203 246.39 L204 246.39 L205 246.39 L206 246.38 L207 246.38 L208 246.38 L209 246.38 L210 246.38 L211 246.38 L212 246.38 L213 246.37 L214 246.37 L215 246.37 L216 246.37 L217 246.36 L218 246.36 L219 246.36 L220 246.35 L221 246.35 L222 246.34 L223 246.34 L224 246.33 L225 246.32 L226 246.32 L227 246.31 L228 246.27 L229 245.6 L230 243.8 L231 232.41 L232 220.32 L233 217.58 L234 216.8 L235 216.58 L236 216.5 L237 216.5 L238 216.5 L239 216.5 L240 216.5 L241 216.5 L242 216.5 L243 216.5 L244 216.5 L245 216.5 L246 216.5 L247 216.5 L248 216.5 L249 216.5 L250 216.5 L251 216.5 L252 216.5 L253 216.5 L254 216.5 L255 216.5 L256 216.5 L257 216.5 L258 216.5 L259 216.5 L260 216.5 L261 216.5 L262 216.5 L263 216.5 L264 216.5 L265 216.5 L266 216.5 L267 216.5 L268 216.5 L269 216.5 L270 216.5 L271 216.5 L272 216.5 L273 216.5 L274 216.5 L275 216.5 L276 216.5 L277 216.5 L278 216.5 L279 216.5 L280 216.5 L281 216.5 L282 216.5 L283 216.5 L284 216.5 L285 216.5 L286 216.5 L287 216.5 L288 216.5 L289 216.5 L290 216.5 L291 216.5 L292 216.51 L293 216.52 L294 216.54 L295 216.57 L296 216.6 L297 216.85 L298 217.43 L299 218.8 L300 221.29 L301 227.09 L302 234.63 L303 241 L304 243.98 L305 245 L306 245.48 L307 245.51 L308 245.53 L309 245.54 L310 245.55 L311 245.56 L312 245.57 L313 245.57 L314 245.58 L315 245.58 L316 245.59 L317 245.59 L318 245.59 L319 245.6 L320 245.6 L321 245.6 L322 245.6 L323 245.6 L324 245.6 L325 245.29 L326 244.59 L327 242.8 L328 237 L329 231.24 L330 225.1 L331 220.87 L332 218.81 L333 217.38 L334 217 L335 217 L336 217 L337 217 L338 217 L339 217 L340 217 L341 217 L342 217 L343 217 L344 217 L345 217.42 L346 218.11 L347 219.99 L348 224.54 L349 229.93 L350 234.84 L350.5 237" fill="none" stroke="#EDB120" stroke-width="1.5" stroke-linejoin="round" stroke-linecap="butt" clip-path="url(#c02)"/>
<path d="M39.3 215.5 L107.9 215.5 L110.6 184 L223.3 184 L224.6 215.5 L350 215.5" fill="none" stroke="#7E2F8E" stroke-width="1.5" stroke-linejoin="round" stroke-linecap="butt" clip-path="url(#c02)"/>
<line x1="198.5" y1="103" x2="227.9" y2="103" stroke="#7E2F8E" stroke-width="1.5"/>
<text x="230.3" y="106" font-size="8.3"><tspan font-style="italic">θ</tspan><tspan font-size="6.7" dy="3.2">obs</tspan><tspan dy="-3.2" font-size="6.6" dx="-0.2">=</tspan><tspan dx="2.3">0.0</tspan><tspan font-size="5.5" dy="-4.8" dx="1.6">°</tspan></text>
<line x1="272.2" y1="103" x2="301.6" y2="103" stroke="#D95319" stroke-width="1.5"/>
<text x="304" y="106" font-size="8.3"><tspan font-style="italic">θ</tspan><tspan font-size="6.7" dy="3.2">obs</tspan><tspan dy="-3.2" font-size="6.6" dx="-0.2">=</tspan><tspan dx="2.3">2.0</tspan><tspan font-size="5.5" dy="-4.8" dx="1.6">°</tspan></text>
<line x1="198.5" y1="119.1" x2="227.9" y2="119.1" stroke="#EDB120" stroke-width="1.5"/>
<text x="230.3" y="122.1" font-size="8.3"><tspan font-style="italic">θ</tspan><tspan font-size="6.7" dy="3.2">obs</tspan><tspan dy="-3.2" font-size="6.6" dx="-0.2">=</tspan><tspan dx="2.3">1.0</tspan><tspan font-size="5.5" dy="-4.8" dx="1.6">°</tspan></text>
<line x1="272.2" y1="119.1" x2="301.6" y2="119.1" stroke="#0072BD" stroke-width="1.5"/>
<text x="304" y="122.1" font-size="8.3"><tspan font-style="italic">θ</tspan><tspan font-size="6.7" dy="3.2">obs</tspan><tspan dy="-3.2" font-size="6.6" dx="-0.2">=</tspan><tspan dx="2.3">7.0</tspan><tspan font-size="5.5" dy="-4.8" dx="1.6">°</tspan></text>
<rect x="39.3" y="5.1" width="310.7" height="83.8" fill="none" stroke="#000" stroke-width="1.5"/>
<path d="M60.19 5.1 V7.4 M60.19 88.9 V86.6" stroke="#000" stroke-width="1.25"/>
<path d="M72.41 5.1 V7.4 M72.41 88.9 V86.6" stroke="#000" stroke-width="1.25"/>
<path d="M81.08 5.1 V7.4 M81.08 88.9 V86.6" stroke="#000" stroke-width="1.25"/>
<path d="M87.81 5.1 V7.4 M87.81 88.9 V86.6" stroke="#000" stroke-width="1.25"/>
<path d="M93.3 5.1 V7.4 M93.3 88.9 V86.6" stroke="#000" stroke-width="1.25"/>
<path d="M97.95 5.1 V7.4 M97.95 88.9 V86.6" stroke="#000" stroke-width="1.25"/>
<path d="M101.97 5.1 V7.4 M101.97 88.9 V86.6" stroke="#000" stroke-width="1.25"/>
<path d="M105.52 5.1 V7.4 M105.52 88.9 V86.6" stroke="#000" stroke-width="1.25"/>
<path d="M108.7 5.1 V9 M108.7 88.9 V85" stroke="#000" stroke-width="1.25"/>
<path d="M129.59 5.1 V7.4 M129.59 88.9 V86.6" stroke="#000" stroke-width="1.25"/>
<path d="M141.81 5.1 V7.4 M141.81 88.9 V86.6" stroke="#000" stroke-width="1.25"/>
<path d="M150.48 5.1 V7.4 M150.48 88.9 V86.6" stroke="#000" stroke-width="1.25"/>
<path d="M157.2 5.1 V7.4 M157.2 88.9 V86.6" stroke="#000" stroke-width="1.25"/>
<path d="M162.7 5.1 V7.4 M162.7 88.9 V86.6" stroke="#000" stroke-width="1.25"/>
<path d="M167.34 5.1 V7.4 M167.34 88.9 V86.6" stroke="#000" stroke-width="1.25"/>
<path d="M171.37 5.1 V7.4 M171.37 88.9 V86.6" stroke="#000" stroke-width="1.25"/>
<path d="M174.92 5.1 V7.4 M174.92 88.9 V86.6" stroke="#000" stroke-width="1.25"/>
<path d="M178.09 5.1 V9 M178.09 88.9 V85" stroke="#000" stroke-width="1.25"/>
<path d="M198.99 5.1 V7.4 M198.99 88.9 V86.6" stroke="#000" stroke-width="1.25"/>
<path d="M211.21 5.1 V7.4 M211.21 88.9 V86.6" stroke="#000" stroke-width="1.25"/>
<path d="M219.88 5.1 V7.4 M219.88 88.9 V86.6" stroke="#000" stroke-width="1.25"/>
<path d="M226.6 5.1 V7.4 M226.6 88.9 V86.6" stroke="#000" stroke-width="1.25"/>
<path d="M232.1 5.1 V7.4 M232.1 88.9 V86.6" stroke="#000" stroke-width="1.25"/>
<path d="M236.74 5.1 V7.4 M236.74 88.9 V86.6" stroke="#000" stroke-width="1.25"/>
<path d="M240.77 5.1 V7.4 M240.77 88.9 V86.6" stroke="#000" stroke-width="1.25"/>
<path d="M244.32 5.1 V7.4 M244.32 88.9 V86.6" stroke="#000" stroke-width="1.25"/>
<path d="M247.49 5.1 V9 M247.49 88.9 V85" stroke="#000" stroke-width="1.25"/>
<path d="M268.38 5.1 V7.4 M268.38 88.9 V86.6" stroke="#000" stroke-width="1.25"/>
<path d="M280.6 5.1 V7.4 M280.6 88.9 V86.6" stroke="#000" stroke-width="1.25"/>
<path d="M289.27 5.1 V7.4 M289.27 88.9 V86.6" stroke="#000" stroke-width="1.25"/>
<path d="M296 5.1 V7.4 M296 88.9 V86.6" stroke="#000" stroke-width="1.25"/>
<path d="M301.49 5.1 V7.4 M301.49 88.9 V86.6" stroke="#000" stroke-width="1.25"/>
<path d="M306.14 5.1 V7.4 M306.14 88.9 V86.6" stroke="#000" stroke-width="1.25"/>
<path d="M310.16 5.1 V7.4 M310.16 88.9 V86.6" stroke="#000" stroke-width="1.25"/>
<path d="M313.71 5.1 V7.4 M313.71 88.9 V86.6" stroke="#000" stroke-width="1.25"/>
<path d="M316.89 5.1 V9 M316.89 88.9 V85" stroke="#000" stroke-width="1.25"/>
<path d="M337.78 5.1 V7.4 M337.78 88.9 V86.6" stroke="#000" stroke-width="1.25"/>
<rect x="39.3" y="88.9" width="310.7" height="84.5" fill="none" stroke="#000" stroke-width="1.5"/>
<path d="M60.19 88.9 V91.2 M60.19 173.4 V171.1" stroke="#000" stroke-width="1.25"/>
<path d="M72.41 88.9 V91.2 M72.41 173.4 V171.1" stroke="#000" stroke-width="1.25"/>
<path d="M81.08 88.9 V91.2 M81.08 173.4 V171.1" stroke="#000" stroke-width="1.25"/>
<path d="M87.81 88.9 V91.2 M87.81 173.4 V171.1" stroke="#000" stroke-width="1.25"/>
<path d="M93.3 88.9 V91.2 M93.3 173.4 V171.1" stroke="#000" stroke-width="1.25"/>
<path d="M97.95 88.9 V91.2 M97.95 173.4 V171.1" stroke="#000" stroke-width="1.25"/>
<path d="M101.97 88.9 V91.2 M101.97 173.4 V171.1" stroke="#000" stroke-width="1.25"/>
<path d="M105.52 88.9 V91.2 M105.52 173.4 V171.1" stroke="#000" stroke-width="1.25"/>
<path d="M108.7 88.9 V92.8 M108.7 173.4 V169.5" stroke="#000" stroke-width="1.25"/>
<path d="M129.59 88.9 V91.2 M129.59 173.4 V171.1" stroke="#000" stroke-width="1.25"/>
<path d="M141.81 88.9 V91.2 M141.81 173.4 V171.1" stroke="#000" stroke-width="1.25"/>
<path d="M150.48 88.9 V91.2 M150.48 173.4 V171.1" stroke="#000" stroke-width="1.25"/>
<path d="M157.2 88.9 V91.2 M157.2 173.4 V171.1" stroke="#000" stroke-width="1.25"/>
<path d="M162.7 88.9 V91.2 M162.7 173.4 V171.1" stroke="#000" stroke-width="1.25"/>
<path d="M167.34 88.9 V91.2 M167.34 173.4 V171.1" stroke="#000" stroke-width="1.25"/>
<path d="M171.37 88.9 V91.2 M171.37 173.4 V171.1" stroke="#000" stroke-width="1.25"/>
<path d="M174.92 88.9 V91.2 M174.92 173.4 V171.1" stroke="#000" stroke-width="1.25"/>
<path d="M178.09 88.9 V92.8 M178.09 173.4 V169.5" stroke="#000" stroke-width="1.25"/>
<path d="M198.99 88.9 V91.2 M198.99 173.4 V171.1" stroke="#000" stroke-width="1.25"/>
<path d="M211.21 88.9 V91.2 M211.21 173.4 V171.1" stroke="#000" stroke-width="1.25"/>
<path d="M219.88 88.9 V91.2 M219.88 173.4 V171.1" stroke="#000" stroke-width="1.25"/>
<path d="M226.6 88.9 V91.2 M226.6 173.4 V171.1" stroke="#000" stroke-width="1.25"/>
<path d="M232.1 88.9 V91.2 M232.1 173.4 V171.1" stroke="#000" stroke-width="1.25"/>
<path d="M236.74 88.9 V91.2 M236.74 173.4 V171.1" stroke="#000" stroke-width="1.25"/>
<path d="M240.77 88.9 V91.2 M240.77 173.4 V171.1" stroke="#000" stroke-width="1.25"/>
<path d="M244.32 88.9 V91.2 M244.32 173.4 V171.1" stroke="#000" stroke-width="1.25"/>
<path d="M247.49 88.9 V92.8 M247.49 173.4 V169.5" stroke="#000" stroke-width="1.25"/>
<path d="M268.38 88.9 V91.2 M268.38 173.4 V171.1" stroke="#000" stroke-width="1.25"/>
<path d="M280.6 88.9 V91.2 M280.6 173.4 V171.1" stroke="#000" stroke-width="1.25"/>
<path d="M289.27 88.9 V91.2 M289.27 173.4 V171.1" stroke="#000" stroke-width="1.25"/>
<path d="M296 88.9 V91.2 M296 173.4 V171.1" stroke="#000" stroke-width="1.25"/>
<path d="M301.49 88.9 V91.2 M301.49 173.4 V171.1" stroke="#000" stroke-width="1.25"/>
<path d="M306.14 88.9 V91.2 M306.14 173.4 V171.1" stroke="#000" stroke-width="1.25"/>
<path d="M310.16 88.9 V91.2 M310.16 173.4 V171.1" stroke="#000" stroke-width="1.25"/>
<path d="M313.71 88.9 V91.2 M313.71 173.4 V171.1" stroke="#000" stroke-width="1.25"/>
<path d="M316.89 88.9 V92.8 M316.89 173.4 V169.5" stroke="#000" stroke-width="1.25"/>
<path d="M337.78 88.9 V91.2 M337.78 173.4 V171.1" stroke="#000" stroke-width="1.25"/>
<rect x="39.3" y="173.4" width="310.7" height="83.8" fill="none" stroke="#000" stroke-width="1.5"/>
<path d="M60.19 173.4 V175.7 M60.19 257.2 V254.9" stroke="#000" stroke-width="1.25"/>
<path d="M72.41 173.4 V175.7 M72.41 257.2 V254.9" stroke="#000" stroke-width="1.25"/>
<path d="M81.08 173.4 V175.7 M81.08 257.2 V254.9" stroke="#000" stroke-width="1.25"/>
<path d="M87.81 173.4 V175.7 M87.81 257.2 V254.9" stroke="#000" stroke-width="1.25"/>
<path d="M93.3 173.4 V175.7 M93.3 257.2 V254.9" stroke="#000" stroke-width="1.25"/>
<path d="M97.95 173.4 V175.7 M97.95 257.2 V254.9" stroke="#000" stroke-width="1.25"/>
<path d="M101.97 173.4 V175.7 M101.97 257.2 V254.9" stroke="#000" stroke-width="1.25"/>
<path d="M105.52 173.4 V175.7 M105.52 257.2 V254.9" stroke="#000" stroke-width="1.25"/>
<path d="M108.7 173.4 V177.3 M108.7 257.2 V253.3" stroke="#000" stroke-width="1.25"/>
<path d="M129.59 173.4 V175.7 M129.59 257.2 V254.9" stroke="#000" stroke-width="1.25"/>
<path d="M141.81 173.4 V175.7 M141.81 257.2 V254.9" stroke="#000" stroke-width="1.25"/>
<path d="M150.48 173.4 V175.7 M150.48 257.2 V254.9" stroke="#000" stroke-width="1.25"/>
<path d="M157.2 173.4 V175.7 M157.2 257.2 V254.9" stroke="#000" stroke-width="1.25"/>
<path d="M162.7 173.4 V175.7 M162.7 257.2 V254.9" stroke="#000" stroke-width="1.25"/>
<path d="M167.34 173.4 V175.7 M167.34 257.2 V254.9" stroke="#000" stroke-width="1.25"/>
<path d="M171.37 173.4 V175.7 M171.37 257.2 V254.9" stroke="#000" stroke-width="1.25"/>
<path d="M174.92 173.4 V175.7 M174.92 257.2 V254.9" stroke="#000" stroke-width="1.25"/>
<path d="M178.09 173.4 V177.3 M178.09 257.2 V253.3" stroke="#000" stroke-width="1.25"/>
<path d="M198.99 173.4 V175.7 M198.99 257.2 V254.9" stroke="#000" stroke-width="1.25"/>
<path d="M211.21 173.4 V175.7 M211.21 257.2 V254.9" stroke="#000" stroke-width="1.25"/>
<path d="M219.88 173.4 V175.7 M219.88 257.2 V254.9" stroke="#000" stroke-width="1.25"/>
<path d="M226.6 173.4 V175.7 M226.6 257.2 V254.9" stroke="#000" stroke-width="1.25"/>
<path d="M232.1 173.4 V175.7 M232.1 257.2 V254.9" stroke="#000" stroke-width="1.25"/>
<path d="M236.74 173.4 V175.7 M236.74 257.2 V254.9" stroke="#000" stroke-width="1.25"/>
<path d="M240.77 173.4 V175.7 M240.77 257.2 V254.9" stroke="#000" stroke-width="1.25"/>
<path d="M244.32 173.4 V175.7 M244.32 257.2 V254.9" stroke="#000" stroke-width="1.25"/>
<path d="M247.49 173.4 V177.3 M247.49 257.2 V253.3" stroke="#000" stroke-width="1.25"/>
<path d="M268.38 173.4 V175.7 M268.38 257.2 V254.9" stroke="#000" stroke-width="1.25"/>
<path d="M280.6 173.4 V175.7 M280.6 257.2 V254.9" stroke="#000" stroke-width="1.25"/>
<path d="M289.27 173.4 V175.7 M289.27 257.2 V254.9" stroke="#000" stroke-width="1.25"/>
<path d="M296 173.4 V175.7 M296 257.2 V254.9" stroke="#000" stroke-width="1.25"/>
<path d="M301.49 173.4 V175.7 M301.49 257.2 V254.9" stroke="#000" stroke-width="1.25"/>
<path d="M306.14 173.4 V175.7 M306.14 257.2 V254.9" stroke="#000" stroke-width="1.25"/>
<path d="M310.16 173.4 V175.7 M310.16 257.2 V254.9" stroke="#000" stroke-width="1.25"/>
<path d="M313.71 173.4 V175.7 M313.71 257.2 V254.9" stroke="#000" stroke-width="1.25"/>
<path d="M316.89 173.4 V177.3 M316.89 257.2 V253.3" stroke="#000" stroke-width="1.25"/>
<path d="M337.78 173.4 V175.7 M337.78 257.2 V254.9" stroke="#000" stroke-width="1.25"/>
<path d="M39.3 12.08 H41.6 M350 12.08 H347.7" stroke="#000" stroke-width="1.25"/>
<path d="M39.3 19.07 H41.6 M350 19.07 H347.7" stroke="#000" stroke-width="1.25"/>
<path d="M39.3 26.05 H43.2 M350 26.05 H346.1" stroke="#000" stroke-width="1.25"/>
<path d="M39.3 33.03 H41.6 M350 33.03 H347.7" stroke="#000" stroke-width="1.25"/>
<path d="M39.3 40.02 H41.6 M350 40.02 H347.7" stroke="#000" stroke-width="1.25"/>
<path d="M39.3 47 H43.2 M350 47 H346.1" stroke="#000" stroke-width="1.25"/>
<path d="M39.3 53.98 H41.6 M350 53.98 H347.7" stroke="#000" stroke-width="1.25"/>
<path d="M39.3 60.97 H41.6 M350 60.97 H347.7" stroke="#000" stroke-width="1.25"/>
<path d="M39.3 67.95 H43.2 M350 67.95 H346.1" stroke="#000" stroke-width="1.25"/>
<path d="M39.3 74.93 H41.6 M350 74.93 H347.7" stroke="#000" stroke-width="1.25"/>
<path d="M39.3 81.92 H41.6 M350 81.92 H347.7" stroke="#000" stroke-width="1.25"/>
<path d="M39.3 156.5 H43.2 M350 156.5 H346.1" stroke="#000" stroke-width="1.25"/>
<path d="M39.3 139.6 H43.2 M350 139.6 H346.1" stroke="#000" stroke-width="1.25"/>
<path d="M39.3 122.7 H43.2 M350 122.7 H346.1" stroke="#000" stroke-width="1.25"/>
<path d="M39.3 105.8 H43.2 M350 105.8 H346.1" stroke="#000" stroke-width="1.25"/>
<path d="M39.3 194.35 H43.2 M350 194.35 H346.1" stroke="#000" stroke-width="1.25"/>
<path d="M39.3 215.3 H43.2 M350 215.3 H346.1" stroke="#000" stroke-width="1.25"/>
<path d="M39.3 236.25 H43.2 M350 236.25 H346.1" stroke="#000" stroke-width="1.25"/>
<text transform="translate(35.1,10.5) scale(0.97,1.06)" font-size="10.1" text-anchor="end">10<tspan font-size="7.3" dy="-4.6" dx="0.6">5</tspan></text>
<text transform="translate(35.1,31.45) scale(0.97,1.06)" font-size="10.1" text-anchor="end">10<tspan font-size="7.3" dy="-4.6" dx="0.6">2</tspan></text>
<text transform="translate(35.1,52.4) scale(0.97,1.06)" font-size="10.1" text-anchor="end">10<tspan font-size="7.3" dy="-4.6" dx="0.6">-1</tspan></text>
<text transform="translate(35.1,73.35) scale(0.97,1.06)" font-size="10.1" text-anchor="end">10<tspan font-size="7.3" dy="-4.6" dx="0.6">-4</tspan></text>
<text transform="translate(35.1,94.3) scale(0.97,1.06)" font-size="10.1" text-anchor="end">10<tspan font-size="7.3" dy="-4.6" dx="0.6">-7</tspan></text>
<text transform="translate(35.1,160.9) scale(0.97,1.06)" font-size="10.1" text-anchor="end">0.0</text>
<text transform="translate(35.1,144) scale(0.97,1.06)" font-size="10.1" text-anchor="end">0.2</text>
<text transform="translate(35.1,127.1) scale(0.97,1.06)" font-size="10.1" text-anchor="end">0.4</text>
<text transform="translate(35.1,110.2) scale(0.97,1.06)" font-size="10.1" text-anchor="end">0.6</text>
<text transform="translate(35.1,177.8) scale(0.97,1.06)" font-size="10.1" text-anchor="end">120</text>
<text transform="translate(35.1,198.75) scale(0.97,1.06)" font-size="10.1" text-anchor="end">60</text>
<text transform="translate(35.1,219.7) scale(0.97,1.06)" font-size="10.1" text-anchor="end">0</text>
<text transform="translate(35.1,240.65) scale(0.97,1.06)" font-size="10.1" text-anchor="end">-60</text>
<text transform="translate(35.1,261.6) scale(0.97,1.06)" font-size="10.1" text-anchor="end">-120</text>
<text transform="translate(39,275.3) scale(0.97,1.06)" font-size="10.1" text-anchor="middle">10<tspan font-size="7.3" dy="-4.6" dx="0.6">1</tspan></text>
<text transform="translate(108.4,275.3) scale(0.97,1.06)" font-size="10.1" text-anchor="middle">10<tspan font-size="7.3" dy="-4.6" dx="0.6">2</tspan></text>
<text transform="translate(177.79,275.3) scale(0.97,1.06)" font-size="10.1" text-anchor="middle">10<tspan font-size="7.3" dy="-4.6" dx="0.6">3</tspan></text>
<text transform="translate(247.19,275.3) scale(0.97,1.06)" font-size="10.1" text-anchor="middle">10<tspan font-size="7.3" dy="-4.6" dx="0.6">4</tspan></text>
<text transform="translate(316.59,275.3) scale(0.97,1.06)" font-size="10.1" text-anchor="middle">10<tspan font-size="7.3" dy="-4.6" dx="0.6">5</tspan></text>
<text transform="translate(8.7,52.6) rotate(-90)" font-size="12.1" text-anchor="middle">Flux Density [<tspan font-style="italic">μ</tspan>Jy]</text>
<text transform="translate(8.8,132) rotate(-90)" font-size="11.2" text-anchor="middle">PD</text>
<text transform="translate(8.4,215.7) rotate(-90)" font-size="10.8" text-anchor="middle">PA [degree]</text>
<text x="194.65" y="290" font-size="11" text-anchor="middle"><tspan font-style="italic">t</tspan> [s]</text>
<path d="M414.03 48.35 L415.83 48.23 L417.64 48.11 L419.45 47.98 L421.25 47.85 L423.06 47.72 L424.86 47.58 L426.67 47.44 L428.48 47.3 L430.28 47.15 L432.09 47.01 L433.89 46.86 L435.7 46.7 L437.5 46.55 L439.31 46.39 L441.11 46.23 L442.92 46.07 L444.72 45.9 L446.53 45.74 L448.33 45.57 L450.14 45.4 L451.94 45.23 L453.74 45.06 L455.55 44.89 L457.35 44.71 L459.16 44.54 L460.96 44.36 L462.77 44.19 L464.57 44.01 L466.38 43.84 L468.18 43.66 L469.98 43.48 L471.79 43.31 L473.59 43.13 L475.4 42.96 L477.2 42.78 L479.01 42.61 L480.81 42.43 L482.62 42.26 L484.42 42.09 L486.23 41.92 L488.03 41.75 L489.84 41.58 L491.64 41.41 L493.45 41.25 L495.25 41.09 L497.06 40.93 L498.87 40.77 L500.67 40.61 L502.48 40.46 L504.28 40.3 L506.09 40.15 L507.9 40.01 L509.7 39.86 L511.51 39.72 L513.32 39.59 L515.13 39.45 L516.93 39.32 L518.74 39.19 L520.55 39.07 L522.36 38.95 L524.17 38.84 L525.98 38.72 L527.79 38.62 L529.6 38.51 L531.41 38.41 L533.22 38.32 L535.03 38.23 L536.84 38.14 L538.65 38.06 L540.46 37.99 L542.27 37.92 L544.08 37.86 L545.89 37.8 L547.71 37.74 L549.52 37.7 L551.33 37.65 L553.15 37.62 L554.96 37.59 L556.78 37.57 L558.59 37.55 L560.41 37.54 L562.22 37.54 L564.04 37.54 L565.85 37.55 L567.67 37.57 L569.49 37.59 L571.31 37.62 L571.28 37.6 L573.08 37.76 L574.87 37.92 L576.67 38.08 L578.47 38.25 L580.26 38.43 L582.06 38.6 L583.86 38.78 L585.65 38.96 L587.45 39.14 L589.24 39.33 L591.04 39.51 L592.83 39.7 L594.62 39.9 L596.42 40.09 L598.21 40.29 L600 40.49 L601.8 40.7 L603.59 40.9 L605.38 41.11 L607.17 41.32 L608.96 41.53 L610.75 41.75 L612.54 41.97 L614.34 42.19 L616.13 42.41 L617.91 42.63 L619.7 42.86 L621.49 43.09 L623.28 43.32 L625.07 43.56 L626.86 43.79 L628.65 44.03 L630.44 44.27 L632.22 44.51 L634.01 44.75 L635.8 45 L637.58 45.25 L639.37 45.5 L641.16 45.75 L642.94 46 L644.73 46.25 L646.52 46.51 L648.3 46.77 L650.09 47.03 L651.87 47.29 L653.66 47.56 L655.44 47.82 L657.22 48.09 L659.01 48.36 L660.79 48.63 L662.58 48.9 L664.36 49.17 L666.14 49.45 L667.92 49.72 L669.71 50 L671.49 50.28 L673.27 50.56 L675.05 50.84 L676.84 51.12 L678.62 51.41 L680.4 51.69 L682.18 51.98 L683.96 52.27 L685.74 52.56 L687.52 52.85 L689.31 53.14 L691.09 53.43 L692.87 53.73 L694.65 54.02 L696.43 54.32 L698.21 54.61 L699.99 54.91 L701.77 55.21 L703.55 55.51 L705.32 55.81 L707.1 56.11 L708.88 56.41 L710.66 56.71 L712.44 57.02 L714.22 57.32 L716 57.63 L717.78 57.93 L719.55 58.24 L721.33 58.55 L723.11 58.85 L724.89 59.16" fill="none" stroke="#0072BD" stroke-width="1.5" stroke-linejoin="round" stroke-linecap="butt" clip-path="url(#c10)"/>
<path d="M414.02 50.73 L415.82 50.6 L417.63 50.46 L419.44 50.32 L421.24 50.18 L423.05 50.04 L424.85 49.9 L426.66 49.75 L428.47 49.6 L430.27 49.45 L432.08 49.29 L433.88 49.14 L435.69 48.98 L437.49 48.82 L439.3 48.66 L441.1 48.5 L442.91 48.34 L444.72 48.17 L446.52 48.01 L448.33 47.84 L450.13 47.67 L451.94 47.51 L453.74 47.34 L455.55 47.17 L457.35 47 L459.16 46.83 L460.96 46.66 L462.77 46.49 L464.57 46.32 L466.38 46.15 L468.18 45.98 L469.99 45.81 L471.79 45.64 L473.6 45.47 L475.4 45.3 L477.21 45.13 L479.01 44.96 L480.82 44.8 L482.62 44.63 L484.43 44.47 L486.23 44.3 L488.04 44.14 L489.84 43.98 L491.65 43.82 L493.46 43.67 L495.26 43.51 L497.07 43.36 L498.88 43.21 L500.68 43.06 L502.49 42.91 L504.3 42.76 L506.1 42.62 L507.91 42.48 L509.72 42.34 L511.52 42.21 L513.33 42.08 L515.14 41.95 L516.95 41.82 L518.76 41.7 L520.56 41.58 L522.37 41.46 L524.18 41.35 L525.99 41.24 L527.8 41.14 L529.61 41.03 L531.42 40.93 L533.23 40.84 L535.04 40.75 L536.85 40.66 L538.66 40.58 L540.47 40.51 L542.28 40.43 L544.09 40.36 L545.9 40.3 L547.72 40.24 L549.53 40.19 L551.34 40.14 L553.15 40.1 L554.97 40.06 L556.78 40.02 L558.6 40 L560.41 39.97 L562.22 39.96 L564.04 39.95 L565.85 39.94 L567.67 39.94 L569.49 39.95 L571.3 39.96 L571.29 39.9 L573.08 40.08 L574.87 40.26 L576.66 40.45 L578.45 40.63 L580.24 40.81 L582.03 40.98 L583.82 41.16 L585.61 41.34 L587.4 41.51 L589.2 41.69 L590.99 41.86 L592.78 42.04 L594.57 42.21 L596.36 42.39 L598.15 42.56 L599.94 42.73 L601.73 42.91 L603.52 43.08 L605.31 43.25 L607.1 43.43 L608.89 43.6 L610.69 43.77 L612.48 43.94 L614.27 44.12 L616.06 44.29 L617.85 44.47 L619.64 44.64 L621.43 44.82 L623.22 44.99 L625.01 45.17 L626.8 45.35 L628.59 45.53 L630.38 45.71 L632.17 45.89 L633.96 46.07 L635.75 46.25 L637.54 46.43 L639.33 46.62 L641.12 46.81 L642.91 46.99 L644.7 47.18 L646.49 47.37 L648.28 47.56 L650.06 47.76 L651.85 47.95 L653.64 48.15 L655.43 48.35 L657.22 48.55 L659 48.75 L660.79 48.96 L662.58 49.16 L664.36 49.37 L666.15 49.58 L667.94 49.8 L669.72 50.01 L671.51 50.23 L673.29 50.45 L675.08 50.68 L676.86 50.9 L678.65 51.13 L680.43 51.36 L682.21 51.6 L684 51.83 L685.78 52.07 L687.56 52.32 L689.34 52.56 L691.13 52.81 L692.91 53.06 L694.69 53.32 L696.47 53.58 L698.25 53.84 L700.03 54.1 L701.81 54.37 L703.58 54.65 L705.36 54.92 L707.14 55.2 L708.92 55.49 L710.69 55.78 L712.47 56.07 L714.25 56.36 L716.02 56.66 L717.8 56.97 L719.57 57.27 L721.34 57.59 L723.12 57.9 L724.89 58.23" fill="none" stroke="#D95319" stroke-width="1.5" stroke-linejoin="round" stroke-linecap="butt" clip-path="url(#c10)"/>
<path d="M444.6 89.29 L445.29 87.44 L446.07 85.67 L446.94 83.99 L447.9 82.38 L448.95 80.85 L450.07 79.39 L451.26 78 L452.52 76.67 L453.85 75.41 L455.24 74.2 L456.68 73.05 L458.17 71.95 L459.7 70.91 L461.28 69.9 L462.89 68.95 L464.53 68.03 L466.2 67.15 L467.89 66.3 L469.59 65.49 L471.31 64.7 L473.04 63.94 L474.78 63.2 L476.52 62.49 L478.28 61.81 L480.04 61.14 L481.81 60.5 L483.59 59.89 L485.38 59.29 L487.18 58.72 L488.98 58.16 L490.78 57.63 L492.6 57.11 L494.42 56.62 L496.25 56.14 L498.08 55.68 L499.92 55.23 L501.76 54.81 L503.61 54.39 L505.46 54 L507.32 53.61 L509.18 53.24 L511.04 52.89 L512.91 52.54 L514.78 52.21 L516.65 51.89 L518.53 51.58 L520.41 51.28 L522.29 50.99 L524.17 50.71 L526.06 50.43 L527.94 50.16 L529.83 49.9 L531.72 49.65 L533.6 49.4 L535.49 49.16 L537.38 48.92 L539.27 48.68 L541.15 48.45 L543.04 48.22 L544.92 47.99 L546.8 47.77 L548.68 47.54 L550.56 47.32 L552.44 47.09 L554.31 46.86 L556.19 46.64 L558.06 46.42 L559.93 46.2 L561.79 45.98 L563.66 45.77 L565.53 45.57 L567.39 45.37 L569.26 45.18 L571.12 44.99 L572.99 44.82 L574.85 44.65 L576.72 44.5 L578.58 44.35 L580.45 44.22 L582.32 44.1 L584.19 43.99 L586.06 43.9 L587.93 43.82 L589.8 43.76 L591.68 43.72 L593.56 43.69 L595.44 43.69 L597.32 43.69 L599.2 43.72 L601.09 43.76 L602.97 43.81 L604.86 43.88 L606.75 43.96 L608.64 44.05 L610.53 44.15 L612.42 44.26 L614.31 44.38 L616.2 44.51 L618.09 44.65 L619.99 44.8 L621.88 44.95 L623.77 45.1 L625.65 45.27 L627.54 45.43 L629.43 45.6 L631.32 45.77 L633.2 45.95 L635.09 46.13 L636.97 46.31 L638.85 46.5 L640.73 46.69 L642.61 46.88 L644.49 47.08 L646.37 47.28 L648.25 47.48 L650.13 47.69 L652.01 47.9 L653.88 48.11 L655.76 48.32 L657.63 48.54 L659.51 48.76 L661.38 48.99 L663.25 49.21 L665.12 49.45 L667 49.68 L668.87 49.91 L670.74 50.15 L672.61 50.39 L674.48 50.64 L676.35 50.89 L678.22 51.14 L680.09 51.39 L681.96 51.64 L683.82 51.9 L685.69 52.16 L687.56 52.42 L689.43 52.69 L691.29 52.96 L693.16 53.23 L695.03 53.5 L696.89 53.77 L698.76 54.05 L700.63 54.33 L702.49 54.61 L704.36 54.9 L706.23 55.18 L708.09 55.47 L709.96 55.76 L711.83 56.06 L713.7 56.35 L715.56 56.65 L717.43 56.95 L719.3 57.25 L721.17 57.55 L723.03 57.86 L724.9 58.16" fill="none" stroke="#EDB120" stroke-width="1.5" stroke-linejoin="round" stroke-linecap="butt" clip-path="url(#c10)"/>
<path d="M487.6 89.36 L488.51 87.69 L489.54 86.13 L490.67 84.69 L491.89 83.33 L493.19 82.06 L494.56 80.86 L495.99 79.72 L497.47 78.63 L498.99 77.59 L500.54 76.57 L502.11 75.59 L503.71 74.62 L505.32 73.67 L506.95 72.73 L508.58 71.8 L510.21 70.88 L511.85 69.95 L513.48 69.02 L515.11 68.08 L516.73 67.14 L518.34 66.2 L519.96 65.26 L521.58 64.34 L523.2 63.43 L524.83 62.53 L526.47 61.67 L528.11 60.83 L529.77 60.02 L531.45 59.26 L533.15 58.53 L534.86 57.85 L536.6 57.22 L538.35 56.62 L540.12 56.06 L541.9 55.54 L543.69 55.04 L545.5 54.57 L547.31 54.12 L549.13 53.69 L550.96 53.28 L552.79 52.87 L554.63 52.48 L556.47 52.09 L558.3 51.7 L560.14 51.31 L561.98 50.92 L563.81 50.54 L565.65 50.16 L567.48 49.78 L569.32 49.42 L571.16 49.06 L572.99 48.7 L574.83 48.36 L576.67 48.03 L578.51 47.71 L580.35 47.4 L582.19 47.1 L584.03 46.82 L585.88 46.56 L587.72 46.31 L589.57 46.08 L591.42 45.87 L593.27 45.68 L595.12 45.5 L596.98 45.35 L598.84 45.23 L600.7 45.12 L602.56 45.03 L604.42 44.96 L606.28 44.91 L608.15 44.88 L610.01 44.86 L611.88 44.86 L613.75 44.88 L615.61 44.91 L617.48 44.95 L619.35 45.01 L621.21 45.07 L623.08 45.15 L624.95 45.24 L626.81 45.34 L628.68 45.45 L630.54 45.57 L632.41 45.69 L634.27 45.82 L636.13 45.97 L637.99 46.11 L639.85 46.27 L641.71 46.44 L643.57 46.61 L645.42 46.78 L647.28 46.97 L649.14 47.16 L650.99 47.36 L652.85 47.56 L654.7 47.77 L656.56 47.98 L658.41 48.2 L660.26 48.43 L662.11 48.66 L663.97 48.89 L665.82 49.13 L667.67 49.38 L669.52 49.63 L671.37 49.88 L673.22 50.13 L675.07 50.39 L676.91 50.65 L678.76 50.92 L680.61 51.19 L682.46 51.46 L684.3 51.73 L686.15 52 L688 52.28 L689.84 52.56 L691.69 52.84 L693.54 53.12 L695.38 53.4 L697.23 53.68 L699.07 53.96 L700.92 54.25 L702.76 54.53 L704.61 54.81 L706.45 55.1 L708.3 55.38 L710.14 55.66 L711.99 55.94 L713.83 56.22 L715.68 56.5 L717.52 56.78 L719.37 57.05 L721.21 57.33 L723.05 57.6 L724.9 57.87" fill="none" stroke="#7E2F8E" stroke-width="1.5" stroke-linejoin="round" stroke-linecap="butt" clip-path="url(#c10)"/>
<path d="M414 156.7 L415.5 156.7 L417 156.7 L418.5 156.7 L420 156.7 L421.5 156.7 L423 156.7 L424.5 156.7 L426 156.7 L427.5 156.7 L429 156.7 L430.5 156.7 L432 156.7 L433.5 156.7 L435 156.7 L436.5 156.7 L438 156.7 L439.5 156.7 L441 156.7 L442.5 156.7 L444 156.7 L445.5 156.7 L447 156.7 L448.5 156.7 L450 156.7 L451.5 156.7 L453 156.7 L454.5 156.7 L456 156.7 L457.5 156.7 L459 156.7 L460.5 156.7 L462 156.7 L463.5 156.7 L465 156.7 L466.5 156.7 L468 156.7 L469.5 156.7 L471 156.7 L472.5 156.7 L474 156.7 L475.5 156.7 L477 156.7 L478.5 156.7 L480 156.7 L481.5 156.7 L483 156.7 L484.5 156.7 L486 156.7 L487.5 156.7 L489 156.7 L490.5 156.7 L492 156.7 L493.5 156.7 L495 156.7 L496.5 156.7 L498 156.7 L499.5 156.7 L501 156.7 L502.5 156.7 L504 156.7 L505.5 156.7 L507 156.7 L508.5 156.7 L510 156.69 L511.5 156.69 L513 156.69 L514.5 156.69 L516 156.69 L517.5 156.69 L519 156.69 L520.5 156.69 L522 156.69 L523.5 156.69 L525 156.69 L526.5 156.69 L528 156.69 L529.5 156.69 L531 156.69 L532.5 156.69 L534 156.69 L535.5 156.69 L537 156.69 L538.5 156.69 L540 156.69 L541.5 156.69 L543 156.69 L544.5 156.69 L546 156.69 L547.5 156.69 L549 156.69 L550.5 156.69 L552 156.69 L553.5 156.69 L555 156.69 L556.5 156.68 L558 156.68 L559.5 156.68 L561 156.68 L562.5 156.68 L564 156.68 L565.5 156.68 L567 156.68 L568.5 156.68 L570 156.68 L571.5 156.68 L573 156.68 L574.5 156.68 L576 156.68 L577.5 156.68 L579 156.68 L580.5 156.68 L582 156.68 L583.5 156.68 L585 156.67 L586.5 156.67 L588 156.67 L589.5 156.67 L591 156.67 L592.5 156.67 L594 156.67 L595.5 156.67 L597 156.67 L598.5 156.67 L600 156.67 L601.5 156.67 L603 156.67 L604.5 156.67 L606 156.66 L607.5 156.66 L609 156.66 L610.5 156.66 L612 156.66 L613.5 156.66 L615 156.66 L616.5 156.66 L618 156.66 L619.5 156.66 L621 156.66 L622.5 156.66 L624 156.65 L625.5 156.65 L627 156.65 L628.5 156.65 L630 156.65 L631.5 156.65 L633 156.65 L634.5 156.65 L636 156.65 L637.5 156.65 L639 156.64 L640.5 156.64 L642 156.64 L643.5 156.64 L645 156.64 L646.5 156.64 L648 156.64 L649.5 156.64 L651 156.64 L652.5 156.63 L654 156.63 L655.5 156.63 L657 156.63 L658.5 156.63 L660 156.63 L661.5 156.63 L663 156.63 L664.5 156.62 L666 156.62 L667.5 156.62 L669 156.62 L670.5 156.62 L672 156.62 L673.5 156.62 L675 156.61 L676.5 156.61 L678 156.61 L679.5 156.61 L681 156.61 L682.5 156.61 L684 156.61 L685.5 156.6 L687 156.6 L688.5 156.6 L690 156.6 L691.5 156.56 L693 156.47 L694.5 156.34 L696 156.17 L697.5 155.99 L699 155.81 L700.5 155.64 L702 155.46 L703.5 155.26 L705 155.04 L706.5 154.82 L708 154.59 L709.5 154.37 L711 154.14 L712.5 153.91 L714 153.67 L715.5 153.43 L717 153.19 L718.5 152.94 L720 152.68 L721.5 152.42 L723 152.16 L723.9 152" fill="none" stroke="#0072BD" stroke-width="1.5" stroke-linejoin="round" stroke-linecap="butt" clip-path="url(#c11)"/>
<path d="M414 156.2 L415.5 156.2 L417 156.2 L418.5 156.2 L420 156.2 L421.5 156.2 L423 156.2 L424.5 156.2 L426 156.2 L427.5 156.2 L429 156.2 L430.5 156.2 L432 156.2 L433.5 156.2 L435 156.2 L436.5 156.2 L438 156.2 L439.5 156.2 L441 156.2 L442.5 156.2 L444 156.2 L445.5 156.2 L447 156.2 L448.5 156.2 L450 156.2 L451.5 156.2 L453 156.2 L454.5 156.2 L456 156.2 L457.5 156.2 L459 156.2 L460.5 156.2 L462 156.2 L463.5 156.2 L465 156.2 L466.5 156.2 L468 156.2 L469.5 156.2 L471 156.2 L472.5 156.2 L474 156.2 L475.5 156.2 L477 156.2 L478.5 156.2 L480 156.2 L481.5 156.2 L483 156.2 L484.5 156.19 L486 156.18 L487.5 156.16 L489 156.13 L490.5 156.1 L492 156.06 L493.5 156.02 L495 155.97 L496.5 155.92 L498 155.87 L499.5 155.81 L501 155.75 L502.5 155.69 L504 155.63 L505.5 155.57 L507 155.51 L508.5 155.45 L510 155.39 L511.5 155.34 L513 155.28 L514.5 155.23 L516 155.18 L517.5 155.14 L519 155.1 L520.5 155.06 L522 155.03 L523.5 155.01 L525 154.99 L526.5 154.98 L528 154.96 L529.5 154.95 L531 154.93 L532.5 154.92 L534 154.91 L535.5 154.89 L537 154.88 L538.5 154.87 L540 154.86 L541.5 154.85 L543 154.84 L544.5 154.83 L546 154.82 L547.5 154.81 L549 154.81 L550.5 154.8 L552 154.8 L553.5 154.8 L555 154.8 L556.5 154.81 L558 154.82 L559.5 154.83 L561 154.85 L562.5 154.87 L564 154.9 L565.5 154.93 L567 154.97 L568.5 155 L570 155.04 L571.5 155.09 L573 155.13 L574.5 155.17 L576 155.22 L577.5 155.26 L579 155.31 L580.5 155.36 L582 155.4 L583.5 155.45 L585 155.49 L586.5 155.53 L588 155.57 L589.5 155.61 L591 155.65 L592.5 155.68 L594 155.71 L595.5 155.74 L597 155.76 L598.5 155.78 L600 155.79 L601.5 155.8 L603 155.8 L604.5 155.72 L606 155.49 L607.5 155.16 L609 154.77 L610.5 154.37 L612 154 L613.5 153.7 L615 153.49 L616.5 153.3 L618 153.1 L619.5 152.92 L621 152.75 L622.5 152.61 L624 152.5 L625.5 152.42 L627 152.4 L628.5 152.42 L630 152.48 L631.5 152.56 L633 152.67 L634.5 152.8 L636 152.95 L637.5 153.11 L639 153.27 L640.5 153.43 L642 153.59 L643.5 153.74 L645 153.89 L646.5 154.05 L648 154.24 L649.5 154.44 L651 154.65 L652.5 154.86 L654 155.07 L655.5 155.26 L657 155.45 L658.5 155.6 L660 155.74 L661.5 155.83 L663 155.89 L664.5 155.9 L666 155.88 L667.5 155.85 L669 155.82 L670.5 155.78 L672 155.74 L673.5 155.71 L675 155.69 L676.5 155.67 L678 155.65 L679.5 155.63 L681 155.62 L682.5 155.61 L684 155.6 L685.5 155.6 L687 155.65 L688.5 155.74 L690 155.86 L691.5 155.98 L693 156.09 L694.5 156.17 L696 156.2 L697.5 156.2 L699 156.2 L700.5 156.2 L702 156.2 L703.5 156.2 L705 156.2 L706.5 156.2 L708 156.2 L709.5 156.2 L711 156.2 L712.5 156.2 L714 156.2 L715.5 156.2 L717 156.2 L718.5 156.2 L720 156.2 L721.5 156.2 L723 156.2 L723.9 156.2" fill="none" stroke="#D95319" stroke-width="1.5" stroke-linejoin="round" stroke-linecap="butt" clip-path="url(#c11)"/>
<path d="M414 156.3 L415.5 156.3 L417 156.3 L418.5 156.3 L420 156.3 L421.5 156.3 L423 156.3 L424.5 156.3 L426 156.3 L427.5 156.3 L429 156.3 L430.5 156.3 L432 156.3 L433.5 156.3 L435 156.3 L436.5 156.3 L438 156.3 L439.5 156.3 L441 156.3 L442.5 156.3 L444 153.13 L445.5 151.1 L447 151.1 L448.5 151.1 L450 151.1 L451.5 151.05 L453 150.92 L454.5 150.74 L456 150.53 L457.5 150.31 L459 150.08 L460.5 149.79 L462 149.48 L463.5 149.14 L465 148.8 L466.5 148.48 L468 148.14 L469.5 147.7 L471 147.06 L472.5 146.06 L474 144.87 L475.5 143.65 L477 142.4 L478.5 141.06 L480 139.7 L481.5 138.4 L483 137.02 L484.5 135.65 L486 134.42 L487.5 133.5 L489 132.93 L490.5 132.5 L492 132.03 L493.5 131.44 L495 130.8 L496.5 130.14 L498 129.52 L499.5 128.96 L501 128.42 L502.5 127.91 L504 127.44 L505.5 127.02 L507 126.65 L508.5 126.3 L510 125.93 L511.5 125.53 L513 125.02 L514.5 124.45 L516 123.87 L517.5 123.37 L519 123.01 L520.5 122.73 L522 122.5 L523.5 122.4 L525 122.44 L526.5 122.57 L528 122.75 L529.5 122.96 L531 123.19 L532.5 123.5 L534 123.89 L535.5 124.32 L537 124.8 L538.5 125.31 L540 125.84 L541.5 126.38 L543 126.91 L544.5 127.42 L546 127.9 L547.5 128.4 L549 128.91 L550.5 129.43 L552 129.95 L553.5 130.48 L555 131.01 L556.5 131.53 L558 132.06 L559.5 132.58 L561 133.1 L562.5 133.6 L564 134.1 L565.5 134.59 L567 135.08 L568.5 135.58 L570 136.08 L571.5 136.59 L573 137.11 L574.5 137.66 L576 138.22 L577.5 138.8 L579 139.39 L580.5 140.01 L582 140.69 L583.5 141.42 L585 142.24 L586.5 143.15 L588 144.13 L589.5 145.22 L591 146.44 L592.5 147.65 L594 148.79 L595.5 149.91 L597 151.03 L598.5 152.3 L600 153.75 L601.5 154.99 L603 155.59 L604.5 155.29 L606 154.66 L607.5 154.25 L609 153.84 L610.5 153.47 L612 153.18 L613.5 153.02 L615 153 L616.5 153.02 L618 153.04 L619.5 153.07 L621 153.12 L622.5 153.17 L624 153.22 L625.5 153.28 L627 153.34 L628.5 153.43 L630 153.54 L631.5 153.68 L633 153.84 L634.5 154 L636 154.18 L637.5 154.35 L639 154.52 L640.5 154.68 L642 154.83 L643.5 154.95 L645 155.06 L646.5 155.18 L648 155.29 L649.5 155.41 L651 155.52 L652.5 155.64 L654 155.75 L655.5 155.85 L657 155.95 L658.5 156.04 L660 156.11 L661.5 156.18 L663 156.24 L664.5 156.27 L666 156.3 L667.5 156.3 L669 156.3 L670.5 156.3 L672 156.3 L673.5 156.3 L675 156.3 L676.5 156.3 L678 156.3 L679.5 156.3 L681 156.3 L682.5 156.3 L684 156.3 L685.5 156.3 L687 156.3 L688.5 156.3 L690 156.3 L691.5 156.3 L693 156.3 L694.5 156.3 L696 156.3 L697.5 156.3 L699 156.3 L700.5 156.3 L702 156.3 L703.5 156.3 L705 156.3 L706.5 156.3 L708 156.3 L709.5 156.3 L711 156.3 L712.5 156.3 L714 156.3 L715.5 156.3 L717 156.3 L718.5 156.3 L720 156.3 L721.5 156.3 L723 156.3 L723.9 156.3" fill="none" stroke="#EDB120" stroke-width="1.5" stroke-linejoin="round" stroke-linecap="butt" clip-path="url(#c11)"/>
<path d="M414 156.3 L415.5 156.3 L417 156.3 L418.5 156.3 L420 156.3 L421.5 156.3 L423 156.3 L424.5 156.3 L426 156.3 L427.5 156.3 L429 156.3 L430.5 156.3 L432 156.3 L433.5 156.3 L435 156.3 L436.5 156.3 L438 156.3 L439.5 156.3 L441 156.3 L442.5 156.3 L444 156.3 L445.5 156.3 L447 156.3 L448.5 156.3 L450 156.3 L451.5 156.3 L453 156.3 L454.5 156.3 L456 156.3 L457.5 156.3 L459 156.3 L460.5 156.3 L462 156.3 L463.5 156.3 L465 156.3 L466.5 156.3 L468 156.3 L469.5 156.3 L471 156.3 L472.5 156.3 L474 156.3 L475.5 156.3 L477 156.3 L478.5 156.3 L480 156.3 L481.5 156.3 L483 156.3 L484.5 156.3 L486 156.29 L487.5 156.27 L489 156.24 L490.5 156.2 L492 156.14 L493.5 156.08 L495 156.01 L496.5 155.94 L498 155.85 L499.5 155.76 L501 155.66 L502.5 155.56 L504 155.45 L505.5 155.34 L507 155.22 L508.5 155.1 L510 154.98 L511.5 154.85 L513 154.72 L514.5 154.59 L516 154.41 L517.5 154.16 L519 153.87 L520.5 153.6 L522 153.37 L523.5 153.23 L525 153.27 L526.5 153.93 L528 154.87 L529.5 155.54 L531 155.75 L532.5 155.92 L534 156.06 L535.5 156.17 L537 156.25 L538.5 156.29 L540 156.3 L541.5 156.3 L543 156.3 L544.5 156.3 L546 156.3 L547.5 156.3 L549 156.3 L550.5 156.3 L552 156.3 L553.5 156.3 L555 156.3 L556.5 156.3 L558 156.3 L559.5 156.3 L561 156.3 L562.5 156.3 L564 156.3 L565.5 156.3 L567 156.3 L568.5 156.3 L570 156.3 L571.5 156.3 L573 156.3 L574.5 156.3 L576 156.3 L577.5 156.3 L579 156.3 L580.5 156.3 L582 156.3 L583.5 156.3 L585 156.3 L586.5 156.3 L588 156.3 L589.5 156.3 L591 156.3 L592.5 156.3 L594 156.3 L595.5 156.3 L597 156.3 L598.5 156.3 L600 156.3 L601.5 156.3 L603 156.3 L604.5 156.3 L606 156.3 L607.5 156.3 L609 156.3 L610.5 156.3 L612 156.3 L613.5 156.3 L615 156.3 L616.5 156.3 L618 156.3 L619.5 156.3 L621 156.3 L622.5 156.3 L624 156.3 L625.5 156.3 L627 156.3 L628.5 156.3 L630 156.3 L631.5 156.3 L633 156.3 L634.5 156.3 L636 156.3 L637.5 156.3 L639 156.3 L640.5 156.3 L642 156.3 L643.5 156.3 L645 156.3 L646.5 156.3 L648 156.3 L649.5 156.3 L651 156.3 L652.5 156.3 L654 156.3 L655.5 156.3 L657 156.3 L658.5 156.3 L660 156.3 L661.5 156.3 L663 156.3 L664.5 156.3 L666 156.3 L667.5 156.3 L669 156.3 L670.5 156.3 L672 156.3 L673.5 156.3 L675 156.3 L676.5 156.3 L678 156.3 L679.5 156.3 L681 156.3 L682.5 156.3 L684 156.3 L685.5 156.3 L687 156.3 L688.5 156.3 L690 156.3 L691.5 156.3 L693 156.3 L694.5 156.3 L696 156.3 L697.5 156.3 L699 156.3 L700.5 156.3 L702 156.3 L703.5 156.3 L705 156.3 L706.5 156.3 L708 156.3 L709.5 156.3 L711 156.3 L712.5 156.3 L714 156.3 L715.5 156.3 L717 156.3 L718.5 156.3 L720 156.3 L721.5 156.3 L723 156.3 L723.9 156.3" fill="none" stroke="#7E2F8E" stroke-width="1.5" stroke-linejoin="round" stroke-linecap="butt" clip-path="url(#c11)"/>
<path d="M414 215.5 L559.2 215.5 L562.3 199.8 L562.3 199.8 L563.3 199.78 L564.3 199.77 L565.3 199.76 L566.3 199.75 L567.3 199.74 L568.3 199.73 L569.3 199.72 L570.3 199.72 L571.3 199.71 L572.3 199.71 L573.3 199.71 L574.3 199.7 L575.3 199.7 L576.3 199.7 L577.3 199.7 L578.3 199.7 L579.3 199.7 L580.3 199.7 L581.3 199.71 L582.3 199.74 L583.3 199.77 L584.3 199.82 L585.3 199.87 L586.3 199.93 L587.3 200 L588.3 200.07 L589.3 200.15 L590.3 200.22 L591.3 200.32 L592.3 200.43 L593.3 200.57 L594.3 200.72 L595.3 200.89 L596.3 201.07 L597.3 201.26 L598.3 201.48 L599.3 201.73 L600.3 202 L601.3 202.3 L602.3 202.62 L603.3 202.96 L604.3 203.32 L605.3 203.69 L606.3 204.08 L607.3 204.52 L608.3 205.01 L609.3 205.52 L610.3 206.05 L611.3 206.59 L612.3 207.12 L613.3 207.62 L614.3 208.09 L615.3 208.55 L616.3 209 L617.3 209.45 L618.3 209.89 L619.3 210.31 L620.3 210.72 L621.3 211.12 L622.3 211.49 L623.3 211.85 L624.3 212.2 L625.3 212.55 L626.3 212.88 L627.3 213.2 L628.3 213.5 L629.3 213.77 L630.3 214.02 L631.3 214.24 L632.3 214.44 L633.3 214.64 L634.3 214.82 L635.3 214.99 L636.3 215.15 L637.3 215.29 L638.3 215.42 L639.3 215.53 L640.3 215.63 L641.3 215.71 L642.3 215.79 L643.3 215.86 L644.3 215.92 L645.3 215.99 L646.3 216.04 L647.3 216.1 L648.3 216.15 L649.3 216.2 L650.3 216.25 L651.3 216.3 L652.3 216.35 L653.3 216.4 L654.3 216.46 L655.3 216.52 L656.3 216.58 L657.3 216.64 L658.3 216.7 L659.3 216.75 L660.3 216.81 L661.3 216.87 L662.3 216.93 L663.3 216.99 L664.3 217.06 L665.3 217.12 L666.3 217.18 L667.3 217.23 L668.3 217.28 L669.3 217.33 L670.3 217.38 L671.3 217.44 L672.3 217.51 L673.3 217.6 L674.3 217.7 L675.3 217.81 L676.3 218.01 L677.3 218.33 L678.3 218.74 L679.3 219.39 L680.3 220.3 L681.3 221.71 L682.3 223.6 L683.3 225.97 L684.3 229.2 L685.3 233.5 L686.3 237.4 L687.3 240.38 L688.3 242.57 L689.3 244.14 L690.3 244.84 L691.3 245.22 L692.3 245.46 L693.3 245.64 L694.3 245.79 L695.3 245.88 L696.3 245.92 L697.3 245.96 L698.3 245.99 L699.3 246.02 L700.3 246.05 L701.3 246.07 L702.3 246.09 L703.3 246.1 L704.3 246.12 L705.3 246.13 L706.3 246.15 L707.3 246.16 L708.3 246.17 L709.3 246.19 L710.3 246.2 L711.3 246.22 L712.3 246.24 L713.3 246.25 L714.3 246.27 L715.3 246.28 L716.3 246.3 L717.3 246.31 L718.3 246.33 L719.3 246.34 L720.3 246.35 L721.3 246.36 L722.3 246.38 L723.3 246.39 L724.3 246.4 L724.5 246.4" fill="none" stroke="#0072BD" stroke-width="1.5" stroke-linejoin="round" stroke-linecap="butt" clip-path="url(#c12)"/>
<path d="M414 184 L599.1 184 L602.2 215.5 L640 215.5 L640 215.5 L641 215.5 L642 215.51 L643 215.51 L644 215.52 L645 215.53 L646 215.55 L647 215.56 L648 215.58 L649 215.6 L650 215.62 L651 215.65 L652 215.67 L653 215.7 L654 215.73 L655 215.75 L656 215.78 L657 215.81 L658 215.84 L659 215.87 L660 215.9 L661 215.93 L662 215.97 L663 216.01 L664 216.05 L665 216.1 L666 216.15 L667 216.21 L668 216.27 L669 216.33 L670 216.4 L671 216.47 L672 216.54 L673 216.62 L674 216.74 L675 216.9 L676 217.17 L677 218.33 L678 230.1 L679 241.01 L680 245.5 L681 246.31 L682 246.6 L683 246.6 L684 246.6 L685 246.6 L686 246.6 L687 246.6 L688 246.59 L689 246.59 L690 246.59 L691 246.58 L692 246.58 L693 246.57 L694 246.57 L695 246.56 L696 246.55 L697 246.54 L698 246.52 L699 246.51 L700 246.49 L701 246.48 L702 246.46 L703 246.43 L704 246.41 L705 244.6 L706 236.61 L707 227.46 L708 221.2 L709 218.5 L710 217.43 L711 217.3 L712 217.3 L713 217.3 L714 217.3 L715 217.3 L716 217.3 L717 217.3 L718 217.3 L719 218.09 L720 220.12 L721 225.9 L722 237.51 L723 245.62 L724 247.72 L724.5 248" fill="none" stroke="#D95319" stroke-width="1.5" stroke-linejoin="round" stroke-linecap="butt" clip-path="url(#c12)"/>
<path d="M414 245.7 L442.1 245.7 L445.2 184 L604.4 184 L606.9 215.5 L640 215.5 L640 215.5 L641 215.51 L642 215.53 L643 215.54 L644 215.55 L645 215.57 L646 215.59 L647 215.61 L648 215.62 L649 215.64 L650 215.66 L651 215.69 L652 215.71 L653 215.73 L654 215.75 L655 215.78 L656 215.8 L657 215.82 L658 215.85 L659 215.87 L660 215.9 L661 215.92 L662 215.94 L663 215.96 L664 215.98 L665 216 L666 216.02 L667 216.04 L668 216.06 L669 216.09 L670 216.13 L671 216.17 L672 216.22 L673 216.29 L674 216.36 L675 216.51 L676 217.2 L677 222 L678 232 L679 242 L680 245.2 L681 245.79 L682 246 L683 246 L684 246 L685 246 L686 246 L687 246 L688 246 L689 246 L690 246 L691 246 L692 246 L693 246 L694 246 L695 246 L696 246 L697 246 L698 246 L699 246 L700 246 L701 246 L702 245.19 L703 238.84 L704 229.85 L705 223.07 L706 219.28 L707 217.57 L708 217 L709 217 L710 217 L711 217 L712 217 L713 217 L714 217 L715 217 L716 217 L717 217 L718 217 L719 217 L720 217.3 L721 217.59 L722 218.53 L723 221.42 L724 224.37 L724.5 226" fill="none" stroke="#EDB120" stroke-width="1.5" stroke-linejoin="round" stroke-linecap="butt" clip-path="url(#c12)"/>
<path d="M414 215.5 L482 215.5 L485.1 184 L596.5 184 L598.7 215.5 L723.9 215.5" fill="none" stroke="#7E2F8E" stroke-width="1.5" stroke-linejoin="round" stroke-linecap="butt" clip-path="url(#c12)"/>
<line x1="573.2" y1="103" x2="602.6" y2="103" stroke="#7E2F8E" stroke-width="1.5"/>
<text x="605" y="106" font-size="8.3"><tspan font-style="italic">θ</tspan><tspan font-size="6.7" dy="3.2">obs</tspan><tspan dy="-3.2" font-size="6.6" dx="-0.2">=</tspan><tspan dx="2.3">0.0</tspan><tspan font-size="5.5" dy="-4.8" dx="1.6">°</tspan></text>
<line x1="646.9" y1="103" x2="676.3" y2="103" stroke="#D95319" stroke-width="1.5"/>
<text x="678.7" y="106" font-size="8.3"><tspan font-style="italic">θ</tspan><tspan font-size="6.7" dy="3.2">obs</tspan><tspan dy="-3.2" font-size="6.6" dx="-0.2">=</tspan><tspan dx="2.3">2.0</tspan><tspan font-size="5.5" dy="-4.8" dx="1.6">°</tspan></text>
<line x1="573.2" y1="119.1" x2="602.6" y2="119.1" stroke="#EDB120" stroke-width="1.5"/>
<text x="605" y="122.1" font-size="8.3"><tspan font-style="italic">θ</tspan><tspan font-size="6.7" dy="3.2">obs</tspan><tspan dy="-3.2" font-size="6.6" dx="-0.2">=</tspan><tspan dx="2.3">1.0</tspan><tspan font-size="5.5" dy="-4.8" dx="1.6">°</tspan></text>
<line x1="646.9" y1="119.1" x2="676.3" y2="119.1" stroke="#0072BD" stroke-width="1.5"/>
<text x="678.7" y="122.1" font-size="8.3"><tspan font-style="italic">θ</tspan><tspan font-size="6.7" dy="3.2">obs</tspan><tspan dy="-3.2" font-size="6.6" dx="-0.2">=</tspan><tspan dx="2.3">7.0</tspan><tspan font-size="5.5" dy="-4.8" dx="1.6">°</tspan></text>
<rect x="414" y="5.1" width="309.9" height="83.8" fill="none" stroke="#000" stroke-width="1.5"/>
<path d="M434.84 5.1 V7.4 M434.84 88.9 V86.6" stroke="#000" stroke-width="1.25"/>
<path d="M447.03 5.1 V7.4 M447.03 88.9 V86.6" stroke="#000" stroke-width="1.25"/>
<path d="M455.67 5.1 V7.4 M455.67 88.9 V86.6" stroke="#000" stroke-width="1.25"/>
<path d="M462.38 5.1 V7.4 M462.38 88.9 V86.6" stroke="#000" stroke-width="1.25"/>
<path d="M467.86 5.1 V7.4 M467.86 88.9 V86.6" stroke="#000" stroke-width="1.25"/>
<path d="M472.5 5.1 V7.4 M472.5 88.9 V86.6" stroke="#000" stroke-width="1.25"/>
<path d="M476.51 5.1 V7.4 M476.51 88.9 V86.6" stroke="#000" stroke-width="1.25"/>
<path d="M480.05 5.1 V7.4 M480.05 88.9 V86.6" stroke="#000" stroke-width="1.25"/>
<path d="M483.22 5.1 V9 M483.22 88.9 V85" stroke="#000" stroke-width="1.25"/>
<path d="M504.06 5.1 V7.4 M504.06 88.9 V86.6" stroke="#000" stroke-width="1.25"/>
<path d="M516.24 5.1 V7.4 M516.24 88.9 V86.6" stroke="#000" stroke-width="1.25"/>
<path d="M524.89 5.1 V7.4 M524.89 88.9 V86.6" stroke="#000" stroke-width="1.25"/>
<path d="M531.6 5.1 V7.4 M531.6 88.9 V86.6" stroke="#000" stroke-width="1.25"/>
<path d="M537.08 5.1 V7.4 M537.08 88.9 V86.6" stroke="#000" stroke-width="1.25"/>
<path d="M541.72 5.1 V7.4 M541.72 88.9 V86.6" stroke="#000" stroke-width="1.25"/>
<path d="M545.73 5.1 V7.4 M545.73 88.9 V86.6" stroke="#000" stroke-width="1.25"/>
<path d="M549.27 5.1 V7.4 M549.27 88.9 V86.6" stroke="#000" stroke-width="1.25"/>
<path d="M552.44 5.1 V9 M552.44 88.9 V85" stroke="#000" stroke-width="1.25"/>
<path d="M573.27 5.1 V7.4 M573.27 88.9 V86.6" stroke="#000" stroke-width="1.25"/>
<path d="M585.46 5.1 V7.4 M585.46 88.9 V86.6" stroke="#000" stroke-width="1.25"/>
<path d="M594.11 5.1 V7.4 M594.11 88.9 V86.6" stroke="#000" stroke-width="1.25"/>
<path d="M600.82 5.1 V7.4 M600.82 88.9 V86.6" stroke="#000" stroke-width="1.25"/>
<path d="M606.3 5.1 V7.4 M606.3 88.9 V86.6" stroke="#000" stroke-width="1.25"/>
<path d="M610.93 5.1 V7.4 M610.93 88.9 V86.6" stroke="#000" stroke-width="1.25"/>
<path d="M614.95 5.1 V7.4 M614.95 88.9 V86.6" stroke="#000" stroke-width="1.25"/>
<path d="M618.49 5.1 V7.4 M618.49 88.9 V86.6" stroke="#000" stroke-width="1.25"/>
<path d="M621.66 5.1 V9 M621.66 88.9 V85" stroke="#000" stroke-width="1.25"/>
<path d="M642.49 5.1 V7.4 M642.49 88.9 V86.6" stroke="#000" stroke-width="1.25"/>
<path d="M654.68 5.1 V7.4 M654.68 88.9 V86.6" stroke="#000" stroke-width="1.25"/>
<path d="M663.33 5.1 V7.4 M663.33 88.9 V86.6" stroke="#000" stroke-width="1.25"/>
<path d="M670.04 5.1 V7.4 M670.04 88.9 V86.6" stroke="#000" stroke-width="1.25"/>
<path d="M675.52 5.1 V7.4 M675.52 88.9 V86.6" stroke="#000" stroke-width="1.25"/>
<path d="M680.15 5.1 V7.4 M680.15 88.9 V86.6" stroke="#000" stroke-width="1.25"/>
<path d="M684.17 5.1 V7.4 M684.17 88.9 V86.6" stroke="#000" stroke-width="1.25"/>
<path d="M687.71 5.1 V7.4 M687.71 88.9 V86.6" stroke="#000" stroke-width="1.25"/>
<path d="M690.87 5.1 V9 M690.87 88.9 V85" stroke="#000" stroke-width="1.25"/>
<path d="M711.71 5.1 V7.4 M711.71 88.9 V86.6" stroke="#000" stroke-width="1.25"/>
<rect x="414" y="88.9" width="309.9" height="84.5" fill="none" stroke="#000" stroke-width="1.5"/>
<path d="M434.84 88.9 V91.2 M434.84 173.4 V171.1" stroke="#000" stroke-width="1.25"/>
<path d="M447.03 88.9 V91.2 M447.03 173.4 V171.1" stroke="#000" stroke-width="1.25"/>
<path d="M455.67 88.9 V91.2 M455.67 173.4 V171.1" stroke="#000" stroke-width="1.25"/>
<path d="M462.38 88.9 V91.2 M462.38 173.4 V171.1" stroke="#000" stroke-width="1.25"/>
<path d="M467.86 88.9 V91.2 M467.86 173.4 V171.1" stroke="#000" stroke-width="1.25"/>
<path d="M472.5 88.9 V91.2 M472.5 173.4 V171.1" stroke="#000" stroke-width="1.25"/>
<path d="M476.51 88.9 V91.2 M476.51 173.4 V171.1" stroke="#000" stroke-width="1.25"/>
<path d="M480.05 88.9 V91.2 M480.05 173.4 V171.1" stroke="#000" stroke-width="1.25"/>
<path d="M483.22 88.9 V92.8 M483.22 173.4 V169.5" stroke="#000" stroke-width="1.25"/>
<path d="M504.06 88.9 V91.2 M504.06 173.4 V171.1" stroke="#000" stroke-width="1.25"/>
<path d="M516.24 88.9 V91.2 M516.24 173.4 V171.1" stroke="#000" stroke-width="1.25"/>
<path d="M524.89 88.9 V91.2 M524.89 173.4 V171.1" stroke="#000" stroke-width="1.25"/>
<path d="M531.6 88.9 V91.2 M531.6 173.4 V171.1" stroke="#000" stroke-width="1.25"/>
<path d="M537.08 88.9 V91.2 M537.08 173.4 V171.1" stroke="#000" stroke-width="1.25"/>
<path d="M541.72 88.9 V91.2 M541.72 173.4 V171.1" stroke="#000" stroke-width="1.25"/>
<path d="M545.73 88.9 V91.2 M545.73 173.4 V171.1" stroke="#000" stroke-width="1.25"/>
<path d="M549.27 88.9 V91.2 M549.27 173.4 V171.1" stroke="#000" stroke-width="1.25"/>
<path d="M552.44 88.9 V92.8 M552.44 173.4 V169.5" stroke="#000" stroke-width="1.25"/>
<path d="M573.27 88.9 V91.2 M573.27 173.4 V171.1" stroke="#000" stroke-width="1.25"/>
<path d="M585.46 88.9 V91.2 M585.46 173.4 V171.1" stroke="#000" stroke-width="1.25"/>
<path d="M594.11 88.9 V91.2 M594.11 173.4 V171.1" stroke="#000" stroke-width="1.25"/>
<path d="M600.82 88.9 V91.2 M600.82 173.4 V171.1" stroke="#000" stroke-width="1.25"/>
<path d="M606.3 88.9 V91.2 M606.3 173.4 V171.1" stroke="#000" stroke-width="1.25"/>
<path d="M610.93 88.9 V91.2 M610.93 173.4 V171.1" stroke="#000" stroke-width="1.25"/>
<path d="M614.95 88.9 V91.2 M614.95 173.4 V171.1" stroke="#000" stroke-width="1.25"/>
<path d="M618.49 88.9 V91.2 M618.49 173.4 V171.1" stroke="#000" stroke-width="1.25"/>
<path d="M621.66 88.9 V92.8 M621.66 173.4 V169.5" stroke="#000" stroke-width="1.25"/>
<path d="M642.49 88.9 V91.2 M642.49 173.4 V171.1" stroke="#000" stroke-width="1.25"/>
<path d="M654.68 88.9 V91.2 M654.68 173.4 V171.1" stroke="#000" stroke-width="1.25"/>
<path d="M663.33 88.9 V91.2 M663.33 173.4 V171.1" stroke="#000" stroke-width="1.25"/>
<path d="M670.04 88.9 V91.2 M670.04 173.4 V171.1" stroke="#000" stroke-width="1.25"/>
<path d="M675.52 88.9 V91.2 M675.52 173.4 V171.1" stroke="#000" stroke-width="1.25"/>
<path d="M680.15 88.9 V91.2 M680.15 173.4 V171.1" stroke="#000" stroke-width="1.25"/>
<path d="M684.17 88.9 V91.2 M684.17 173.4 V171.1" stroke="#000" stroke-width="1.25"/>
<path d="M687.71 88.9 V91.2 M687.71 173.4 V171.1" stroke="#000" stroke-width="1.25"/>
<path d="M690.87 88.9 V92.8 M690.87 173.4 V169.5" stroke="#000" stroke-width="1.25"/>
<path d="M711.71 88.9 V91.2 M711.71 173.4 V171.1" stroke="#000" stroke-width="1.25"/>
<rect x="414" y="173.4" width="309.9" height="83.8" fill="none" stroke="#000" stroke-width="1.5"/>
<path d="M434.84 173.4 V175.7 M434.84 257.2 V254.9" stroke="#000" stroke-width="1.25"/>
<path d="M447.03 173.4 V175.7 M447.03 257.2 V254.9" stroke="#000" stroke-width="1.25"/>
<path d="M455.67 173.4 V175.7 M455.67 257.2 V254.9" stroke="#000" stroke-width="1.25"/>
<path d="M462.38 173.4 V175.7 M462.38 257.2 V254.9" stroke="#000" stroke-width="1.25"/>
<path d="M467.86 173.4 V175.7 M467.86 257.2 V254.9" stroke="#000" stroke-width="1.25"/>
<path d="M472.5 173.4 V175.7 M472.5 257.2 V254.9" stroke="#000" stroke-width="1.25"/>
<path d="M476.51 173.4 V175.7 M476.51 257.2 V254.9" stroke="#000" stroke-width="1.25"/>
<path d="M480.05 173.4 V175.7 M480.05 257.2 V254.9" stroke="#000" stroke-width="1.25"/>
<path d="M483.22 173.4 V177.3 M483.22 257.2 V253.3" stroke="#000" stroke-width="1.25"/>
<path d="M504.06 173.4 V175.7 M504.06 257.2 V254.9" stroke="#000" stroke-width="1.25"/>
<path d="M516.24 173.4 V175.7 M516.24 257.2 V254.9" stroke="#000" stroke-width="1.25"/>
<path d="M524.89 173.4 V175.7 M524.89 257.2 V254.9" stroke="#000" stroke-width="1.25"/>
<path d="M531.6 173.4 V175.7 M531.6 257.2 V254.9" stroke="#000" stroke-width="1.25"/>
<path d="M537.08 173.4 V175.7 M537.08 257.2 V254.9" stroke="#000" stroke-width="1.25"/>
<path d="M541.72 173.4 V175.7 M541.72 257.2 V254.9" stroke="#000" stroke-width="1.25"/>
<path d="M545.73 173.4 V175.7 M545.73 257.2 V254.9" stroke="#000" stroke-width="1.25"/>
<path d="M549.27 173.4 V175.7 M549.27 257.2 V254.9" stroke="#000" stroke-width="1.25"/>
<path d="M552.44 173.4 V177.3 M552.44 257.2 V253.3" stroke="#000" stroke-width="1.25"/>
<path d="M573.27 173.4 V175.7 M573.27 257.2 V254.9" stroke="#000" stroke-width="1.25"/>
<path d="M585.46 173.4 V175.7 M585.46 257.2 V254.9" stroke="#000" stroke-width="1.25"/>
<path d="M594.11 173.4 V175.7 M594.11 257.2 V254.9" stroke="#000" stroke-width="1.25"/>
<path d="M600.82 173.4 V175.7 M600.82 257.2 V254.9" stroke="#000" stroke-width="1.25"/>
<path d="M606.3 173.4 V175.7 M606.3 257.2 V254.9" stroke="#000" stroke-width="1.25"/>
<path d="M610.93 173.4 V175.7 M610.93 257.2 V254.9" stroke="#000" stroke-width="1.25"/>
<path d="M614.95 173.4 V175.7 M614.95 257.2 V254.9" stroke="#000" stroke-width="1.25"/>
<path d="M618.49 173.4 V175.7 M618.49 257.2 V254.9" stroke="#000" stroke-width="1.25"/>
<path d="M621.66 173.4 V177.3 M621.66 257.2 V253.3" stroke="#000" stroke-width="1.25"/>
<path d="M642.49 173.4 V175.7 M642.49 257.2 V254.9" stroke="#000" stroke-width="1.25"/>
<path d="M654.68 173.4 V175.7 M654.68 257.2 V254.9" stroke="#000" stroke-width="1.25"/>
<path d="M663.33 173.4 V175.7 M663.33 257.2 V254.9" stroke="#000" stroke-width="1.25"/>
<path d="M670.04 173.4 V175.7 M670.04 257.2 V254.9" stroke="#000" stroke-width="1.25"/>
<path d="M675.52 173.4 V175.7 M675.52 257.2 V254.9" stroke="#000" stroke-width="1.25"/>
<path d="M680.15 173.4 V175.7 M680.15 257.2 V254.9" stroke="#000" stroke-width="1.25"/>
<path d="M684.17 173.4 V175.7 M684.17 257.2 V254.9" stroke="#000" stroke-width="1.25"/>
<path d="M687.71 173.4 V175.7 M687.71 257.2 V254.9" stroke="#000" stroke-width="1.25"/>
<path d="M690.87 173.4 V177.3 M690.87 257.2 V253.3" stroke="#000" stroke-width="1.25"/>
<path d="M711.71 173.4 V175.7 M711.71 257.2 V254.9" stroke="#000" stroke-width="1.25"/>
<path d="M414 12.08 H416.3 M723.9 12.08 H721.6" stroke="#000" stroke-width="1.25"/>
<path d="M414 19.07 H416.3 M723.9 19.07 H721.6" stroke="#000" stroke-width="1.25"/>
<path d="M414 26.05 H417.9 M723.9 26.05 H720" stroke="#000" stroke-width="1.25"/>
<path d="M414 33.03 H416.3 M723.9 33.03 H721.6" stroke="#000" stroke-width="1.25"/>
<path d="M414 40.02 H416.3 M723.9 40.02 H721.6" stroke="#000" stroke-width="1.25"/>
<path d="M414 47 H417.9 M723.9 47 H720" stroke="#000" stroke-width="1.25"/>
<path d="M414 53.98 H416.3 M723.9 53.98 H721.6" stroke="#000" stroke-width="1.25"/>
<path d="M414 60.97 H416.3 M723.9 60.97 H721.6" stroke="#000" stroke-width="1.25"/>
<path d="M414 67.95 H417.9 M723.9 67.95 H720" stroke="#000" stroke-width="1.25"/>
<path d="M414 74.93 H416.3 M723.9 74.93 H721.6" stroke="#000" stroke-width="1.25"/>
<path d="M414 81.92 H416.3 M723.9 81.92 H721.6" stroke="#000" stroke-width="1.25"/>
<path d="M414 156.5 H417.9 M723.9 156.5 H720" stroke="#000" stroke-width="1.25"/>
<path d="M414 139.6 H417.9 M723.9 139.6 H720" stroke="#000" stroke-width="1.25"/>
<path d="M414 122.7 H417.9 M723.9 122.7 H720" stroke="#000" stroke-width="1.25"/>
<path d="M414 105.8 H417.9 M723.9 105.8 H720" stroke="#000" stroke-width="1.25"/>
<path d="M414 194.35 H417.9 M723.9 194.35 H720" stroke="#000" stroke-width="1.25"/>
<path d="M414 215.3 H417.9 M723.9 215.3 H720" stroke="#000" stroke-width="1.25"/>
<path d="M414 236.25 H417.9 M723.9 236.25 H720" stroke="#000" stroke-width="1.25"/>
<text transform="translate(409.8,10.5) scale(0.97,1.06)" font-size="10.1" text-anchor="end">10<tspan font-size="7.3" dy="-4.6" dx="0.6">5</tspan></text>
<text transform="translate(409.8,31.45) scale(0.97,1.06)" font-size="10.1" text-anchor="end">10<tspan font-size="7.3" dy="-4.6" dx="0.6">2</tspan></text>
<text transform="translate(409.8,52.4) scale(0.97,1.06)" font-size="10.1" text-anchor="end">10<tspan font-size="7.3" dy="-4.6" dx="0.6">-1</tspan></text>
<text transform="translate(409.8,73.35) scale(0.97,1.06)" font-size="10.1" text-anchor="end">10<tspan font-size="7.3" dy="-4.6" dx="0.6">-4</tspan></text>
<text transform="translate(409.8,94.3) scale(0.97,1.06)" font-size="10.1" text-anchor="end">10<tspan font-size="7.3" dy="-4.6" dx="0.6">-7</tspan></text>
<text transform="translate(409.8,160.9) scale(0.97,1.06)" font-size="10.1" text-anchor="end">0.0</text>
<text transform="translate(409.8,144) scale(0.97,1.06)" font-size="10.1" text-anchor="end">0.2</text>
<text transform="translate(409.8,127.1) scale(0.97,1.06)" font-size="10.1" text-anchor="end">0.4</text>
<text transform="translate(409.8,110.2) scale(0.97,1.06)" font-size="10.1" text-anchor="end">0.6</text>
<text transform="translate(409.8,177.8) scale(0.97,1.06)" font-size="10.1" text-anchor="end">120</text>
<text transform="translate(409.8,198.75) scale(0.97,1.06)" font-size="10.1" text-anchor="end">60</text>
<text transform="translate(409.8,219.7) scale(0.97,1.06)" font-size="10.1" text-anchor="end">0</text>
<text transform="translate(409.8,240.65) scale(0.97,1.06)" font-size="10.1" text-anchor="end">-60</text>
<text transform="translate(409.8,261.6) scale(0.97,1.06)" font-size="10.1" text-anchor="end">-120</text>
<text transform="translate(413.7,275.3) scale(0.97,1.06)" font-size="10.1" text-anchor="middle">10<tspan font-size="7.3" dy="-4.6" dx="0.6">1</tspan></text>
<text transform="translate(482.92,275.3) scale(0.97,1.06)" font-size="10.1" text-anchor="middle">10<tspan font-size="7.3" dy="-4.6" dx="0.6">2</tspan></text>
<text transform="translate(552.14,275.3) scale(0.97,1.06)" font-size="10.1" text-anchor="middle">10<tspan font-size="7.3" dy="-4.6" dx="0.6">3</tspan></text>
<text transform="translate(621.36,275.3) scale(0.97,1.06)" font-size="10.1" text-anchor="middle">10<tspan font-size="7.3" dy="-4.6" dx="0.6">4</tspan></text>
<text transform="translate(690.57,275.3) scale(0.97,1.06)" font-size="10.1" text-anchor="middle">10<tspan font-size="7.3" dy="-4.6" dx="0.6">5</tspan></text>
<text transform="translate(383.4,52.6) rotate(-90)" font-size="12.1" text-anchor="middle">Flux Density [<tspan font-style="italic">μ</tspan>Jy]</text>
<text transform="translate(383.5,132) rotate(-90)" font-size="11.2" text-anchor="middle">PD</text>
<text transform="translate(383.1,215.7) rotate(-90)" font-size="10.8" text-anchor="middle">PA [degree]</text>
<text x="570.25" y="290" font-size="11" text-anchor="middle"><tspan font-style="italic">t</tspan> [s]</text>
</svg></body></html>
